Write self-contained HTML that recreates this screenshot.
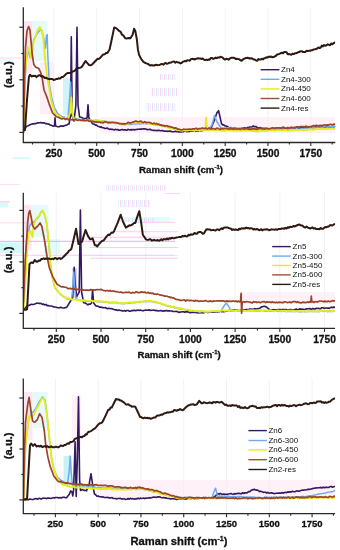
<!DOCTYPE html>
<html><head><meta charset="utf-8"><style>
html,body{margin:0;padding:0;background:#fff;}
svg{display:block;font-family:"Liberation Sans", sans-serif;will-change:transform;}
text{fill:#111;} text[font-weight=bold]{stroke:#111;stroke-width:0.3px;}
</style></head><body>
<svg width="340" height="550" viewBox="0 0 340 550">
<defs><pattern id="hatch" width="4" height="4" patternUnits="userSpaceOnUse"><rect x="0" y="0" width="1" height="4" fill="#ff8fe0"/><rect x="2" y="0" width="1" height="4" fill="#9ff0f4"/></pattern></defs>
<rect width="340" height="550" fill="#fff"/>
<line x1="53.90" y1="7.2" x2="53.90" y2="142.5" stroke="#f0f0f2" stroke-width="0.9"/>
<line x1="96.72" y1="7.2" x2="96.72" y2="142.5" stroke="#f0f0f2" stroke-width="0.9"/>
<line x1="139.53" y1="7.2" x2="139.53" y2="142.5" stroke="#f0f0f2" stroke-width="0.9"/>
<line x1="182.35" y1="7.2" x2="182.35" y2="142.5" stroke="#f0f0f2" stroke-width="0.9"/>
<line x1="225.17" y1="7.2" x2="225.17" y2="142.5" stroke="#f0f0f2" stroke-width="0.9"/>
<line x1="267.99" y1="7.2" x2="267.99" y2="142.5" stroke="#f0f0f2" stroke-width="0.9"/>
<line x1="310.80" y1="7.2" x2="310.80" y2="142.5" stroke="#f0f0f2" stroke-width="0.9"/>
<rect x="23.5" y="21" width="9" height="52" fill="#fde3f1" opacity="0.9"/>
<rect x="32.5" y="21" width="15" height="40" fill="#e0f9fa" opacity="0.8"/>
<rect x="63" y="78" width="8" height="37" fill="#cdf3f8" opacity="0.9"/>
<rect x="40" y="62" width="14" height="52" fill="#fde3f1" opacity="0.6"/>
<rect x="100" y="117" width="235" height="16" fill="#fdeaf4" opacity="0.6"/>
<line x1="0" y1="58" x2="22" y2="58" stroke="#ff7fd6" stroke-width="1" opacity="0.35"/>
<line x1="13" y1="158" x2="30" y2="158" stroke="#aef3f6" stroke-width="1.2" opacity="0.8"/>
<rect x="160" y="74" width="16" height="6" fill="url(#hatch)" opacity="0.4"/>
<rect x="151" y="88" width="27" height="8" fill="url(#hatch)" opacity="0.4"/>
<rect x="145" y="103" width="30" height="8" fill="url(#hatch)" opacity="0.4"/>
<rect x="0" y="59" width="14" height="5" fill="#e0f9fa" opacity="0.7"/>
<clipPath id="p0"><rect x="23.3" y="5.2" width="312.0" height="137.3"/></clipPath>
<g clip-path="url(#p0)" fill="none" stroke-linejoin="round" stroke-linecap="round">
<path d="M23.50 129.00 L24.40 128.50 L25.70 127.59 L27.00 126.00 L28.47 125.69 L29.93 124.79 L31.40 124.30 L32.57 123.82 L33.75 123.84 L34.92 123.49 L36.10 123.63 L37.27 122.92 L38.45 122.85 L39.62 122.72 L40.80 122.40 L41.98 123.05 L43.16 122.88 L44.34 122.90 L45.52 123.62 L46.70 123.60 L47.88 124.12 L49.05 124.15 L50.23 125.21 L51.40 125.20 L52.95 126.08 L54.50 126.00 L55.00 117.70 L55.60 126.00 L57.30 126.60 L58.47 126.74 L59.65 126.65 L60.83 125.89 L62.00 126.13 L63.17 126.12 L64.35 125.73 L65.53 125.35 L66.70 125.20 L67.85 124.20 L69.00 124.00 L70.50 116.00 L71.30 36.70 L72.20 116.00 L74.00 121.00 L75.90 105.00 L77.00 27.30 L78.00 105.00 L79.60 117.00 L80.95 117.31 L82.30 117.86 L83.65 118.54 L85.00 118.50 L87.10 118.00 L88.00 104.70 L88.90 118.00 L90.45 120.50 L92.00 123.00 L93.14 124.05 L94.29 124.15 L95.43 125.12 L96.57 125.10 L97.71 126.23 L98.86 126.56 L100.00 127.10 L101.18 126.85 L102.36 127.80 L103.54 127.72 L104.72 128.38 L105.90 128.47 L107.08 128.04 L108.26 128.77 L109.44 129.39 L110.62 129.00 L111.80 129.50 L112.97 129.38 L114.14 129.97 L115.31 129.34 L116.48 129.77 L117.65 129.49 L118.82 130.27 L119.99 130.15 L121.16 129.85 L122.33 129.53 L123.50 130.00 L124.61 129.76 L125.72 129.89 L126.84 130.26 L127.95 129.37 L129.06 129.76 L130.17 129.85 L131.28 129.64 L132.39 129.84 L133.51 129.51 L134.62 129.88 L135.73 129.46 L136.84 129.38 L137.95 129.18 L139.06 129.27 L140.18 129.00 L141.29 129.13 L142.40 129.00 L143.51 128.88 L144.61 128.88 L145.72 128.97 L146.82 129.49 L147.93 129.63 L149.04 129.54 L150.14 129.25 L151.25 130.01 L152.35 130.22 L153.46 130.36 L154.56 130.38 L155.67 130.53 L156.78 130.65 L157.88 130.36 L158.99 130.30 L160.09 130.71 L161.20 130.60 L162.31 130.45 L163.41 131.05 L164.52 131.16 L165.62 131.28 L166.73 131.04 L167.84 131.47 L168.94 131.17 L170.05 131.12 L171.15 131.40 L172.26 131.80 L173.36 131.79 L174.47 131.74 L175.58 131.10 L176.68 131.70 L177.79 131.65 L178.89 131.86 L180.00 131.80 L181.13 132.08 L182.26 131.42 L183.39 131.84 L184.53 131.16 L185.66 131.20 L186.79 131.72 L187.92 131.19 L189.05 131.61 L190.18 130.83 L191.32 130.81 L192.45 131.30 L193.58 130.59 L194.71 131.05 L195.84 131.33 L196.97 130.89 L198.11 130.97 L199.24 130.25 L200.37 130.80 L201.50 130.60 L202.69 130.42 L203.88 130.10 L205.06 129.63 L206.25 129.32 L207.44 129.64 L208.62 128.41 L209.81 128.11 L211.00 128.30 L212.17 125.53 L213.33 122.77 L214.50 120.00 L215.65 116.50 L216.80 113.00 L218.50 110.60 L219.90 116.50 L221.50 123.60 L222.67 124.86 L223.83 124.88 L225.00 126.00 L226.18 126.01 L227.37 126.48 L228.55 127.45 L229.73 127.97 L230.92 127.44 L232.10 128.30 L233.28 128.34 L234.47 128.13 L235.65 128.41 L236.83 128.49 L238.02 129.03 L239.20 129.00 L240.38 128.68 L241.55 128.33 L242.72 128.48 L243.90 127.84 L245.07 127.73 L246.25 128.44 L247.42 127.47 L248.60 127.60 L249.78 127.06 L250.95 127.03 L252.12 126.74 L253.30 126.00 L254.48 126.82 L255.65 126.47 L256.82 127.37 L258.00 127.60 L259.20 128.26 L260.40 127.54 L261.60 128.35 L262.80 128.71 L264.00 128.39 L265.20 128.49 L266.40 129.03 L267.60 129.06 L268.80 128.98 L270.00 129.50 L271.11 129.42 L272.22 129.30 L273.33 129.40 L274.44 129.29 L275.56 129.03 L276.67 129.02 L277.78 129.45 L278.89 128.81 L280.00 129.06 L281.11 128.46 L282.22 129.13 L283.33 128.67 L284.44 128.32 L285.56 128.50 L286.67 128.41 L287.78 129.06 L288.89 128.41 L290.00 128.29 L291.11 128.30 L292.22 128.84 L293.33 128.47 L294.44 128.40 L295.56 128.44 L296.67 128.05 L297.78 128.03 L298.89 128.21 L300.00 128.00 L301.13 127.46 L302.26 127.60 L303.39 127.70 L304.52 127.56 L305.65 127.91 L306.77 127.61 L307.90 128.06 L309.03 127.71 L310.16 127.51 L311.29 127.45 L312.42 127.71 L313.55 127.38 L314.68 127.58 L315.81 126.91 L316.94 127.27 L318.06 127.04 L319.19 126.89 L320.32 127.21 L321.45 127.13 L322.58 127.16 L323.71 127.31 L324.84 127.39 L325.97 126.96 L327.10 126.73 L328.23 126.84 L329.35 127.13 L330.48 127.16 L331.61 127.05 L332.74 126.38 L333.87 127.14 L335.00 126.60" stroke="#33195f" stroke-width="1.6"/>
<path d="M23.50 131.00 L24.50 100.00 L26.00 62.00 L28.00 51.00 L29.25 54.50 L30.50 58.00 L32.00 50.00 L33.50 40.00 L34.80 37.73 L36.10 35.47 L37.40 33.20 L38.70 31.60 L40.00 30.00 L42.00 31.00 L44.00 40.00 L45.50 48.00 L46.40 36.00 L47.20 34.60 L47.80 55.00 L49.30 84.00 L50.40 90.50 L51.50 97.00 L53.00 102.50 L54.50 108.00 L55.67 110.00 L56.83 112.00 L58.00 114.00 L59.25 114.46 L60.50 115.78 L61.75 116.46 L63.00 117.00 L64.25 117.05 L65.50 117.50 L66.75 117.71 L68.00 118.00 L69.80 95.00 L70.60 82.00 L71.40 100.00 L73.00 118.00 L74.17 118.37 L75.33 118.73 L76.50 118.43 L77.67 118.62 L78.83 119.52 L80.00 119.50 L81.10 119.52 L82.20 119.86 L83.30 119.33 L84.40 119.76 L85.50 120.05 L86.60 119.73 L87.70 120.38 L88.80 120.42 L89.90 119.80 L91.00 119.87 L92.10 120.36 L93.20 120.75 L94.30 120.38 L95.40 120.32 L96.50 120.56 L97.60 120.32 L98.70 120.55 L99.80 120.80 L100.90 120.92 L102.00 121.00 L103.13 120.97 L104.26 121.15 L105.39 121.33 L106.53 121.70 L107.66 121.75 L108.79 121.72 L109.92 122.56 L111.05 122.52 L112.18 122.77 L113.32 122.59 L114.45 123.42 L115.58 123.50 L116.71 123.09 L117.84 123.45 L118.97 123.94 L120.11 124.12 L121.24 124.48 L122.37 124.25 L123.50 124.50 L124.62 124.72 L125.74 124.54 L126.86 124.20 L127.98 124.38 L129.10 124.57 L130.21 124.49 L131.33 124.17 L132.45 124.19 L133.57 123.70 L134.69 123.82 L135.81 124.21 L136.93 123.86 L138.05 123.62 L139.17 123.87 L140.29 123.95 L141.40 123.88 L142.52 123.59 L143.64 123.59 L144.76 123.60 L145.88 123.77 L147.00 123.50 L148.18 123.68 L149.37 123.75 L150.55 123.99 L151.73 123.79 L152.92 123.97 L154.10 124.66 L155.28 125.05 L156.47 124.91 L157.65 124.91 L158.83 124.90 L160.02 125.34 L161.20 125.50 L162.31 126.15 L163.41 126.25 L164.52 126.33 L165.62 126.85 L166.73 126.61 L167.84 127.10 L168.94 127.71 L170.05 127.68 L171.15 127.85 L172.26 127.96 L173.36 128.45 L174.47 129.04 L175.58 128.55 L176.68 129.43 L177.79 129.73 L178.89 130.04 L180.00 130.00 L181.12 130.19 L182.24 130.25 L183.36 130.01 L184.48 130.05 L185.60 129.94 L186.72 129.64 L187.84 130.30 L188.96 130.06 L190.08 129.76 L191.20 130.00 L192.32 129.99 L193.44 129.89 L194.56 129.88 L195.68 130.03 L196.80 130.10 L197.92 130.09 L199.04 129.97 L200.16 129.62 L201.28 129.78 L202.40 129.74 L203.52 130.07 L204.64 130.29 L205.76 130.24 L206.88 130.24 L208.00 130.00 L209.33 128.33 L210.67 126.67 L212.00 125.00 L213.25 120.20 L214.50 115.40 L215.75 118.70 L217.00 122.00 L218.33 124.00 L219.67 126.00 L221.00 128.00 L222.12 128.28 L223.24 127.86 L224.36 128.36 L225.48 128.26 L226.61 127.82 L227.73 127.80 L228.85 127.82 L229.97 128.45 L231.09 128.07 L232.21 127.99 L233.33 128.43 L234.45 128.24 L235.58 128.05 L236.70 128.15 L237.82 128.48 L238.94 128.22 L240.06 128.33 L241.18 128.71 L242.30 128.54 L243.42 128.46 L244.55 128.62 L245.67 128.29 L246.79 128.61 L247.91 128.66 L249.03 128.51 L250.15 128.47 L251.27 129.14 L252.39 128.86 L253.52 128.65 L254.64 128.99 L255.76 129.19 L256.88 128.59 L258.00 129.00 L259.11 128.61 L260.21 128.72 L261.32 129.18 L262.42 128.73 L263.53 129.16 L264.63 129.14 L265.74 129.04 L266.84 128.78 L267.95 129.38 L269.05 129.24 L270.16 129.01 L271.26 128.78 L272.37 129.12 L273.47 128.92 L274.58 129.06 L275.68 128.86 L276.79 129.10 L277.89 128.65 L279.00 128.84 L280.11 129.37 L281.21 129.30 L282.32 128.85 L283.42 129.29 L284.53 128.85 L285.63 129.35 L286.74 129.20 L287.84 128.93 L288.95 128.80 L290.05 128.61 L291.16 129.30 L292.26 128.63 L293.37 129.26 L294.47 129.37 L295.58 129.06 L296.68 128.74 L297.79 129.29 L298.89 129.38 L300.00 129.00 L301.13 129.07 L302.26 128.81 L303.39 128.61 L304.52 128.49 L305.65 128.28 L306.77 128.56 L307.90 128.27 L309.03 127.98 L310.16 127.81 L311.29 128.17 L312.42 127.77 L313.55 127.84 L314.68 127.60 L315.81 127.94 L316.94 127.87 L318.06 127.07 L319.19 127.12 L320.32 127.12 L321.45 127.55 L322.58 127.29 L323.71 126.84 L324.84 126.64 L325.97 126.91 L327.10 126.95 L328.23 126.93 L329.35 126.36 L330.48 126.69 L331.61 126.44 L332.74 126.18 L333.87 126.49 L335.00 126.00" stroke="#6faaf0" stroke-width="1.5"/>
<path d="M23.50 132.00 L24.20 100.00 L25.00 75.00 L26.50 57.00 L28.30 47.00 L29.50 50.00 L31.00 58.00 L32.00 55.00 L33.50 42.00 L35.60 36.00 L36.80 32.50 L38.00 29.00 L39.70 27.00 L40.85 29.00 L42.00 31.00 L43.50 40.00 L44.40 52.00 L45.50 63.00 L46.70 73.00 L47.85 80.00 L49.00 87.00 L50.20 94.10 L51.40 101.20 L52.60 105.13 L53.80 109.07 L55.00 113.00 L56.16 114.40 L57.32 115.33 L58.48 115.38 L59.64 116.34 L60.80 117.70 L62.00 118.17 L63.20 118.20 L64.40 118.27 L65.60 118.04 L66.80 118.47 L68.00 118.50 L69.25 115.25 L70.50 112.00 L71.30 97.40 L72.10 112.00 L74.00 119.00 L75.20 119.41 L76.40 119.68 L77.60 119.56 L78.80 120.13 L80.00 120.50 L81.10 120.43 L82.20 120.79 L83.30 121.10 L84.40 121.09 L85.50 120.72 L86.60 120.65 L87.70 120.51 L88.80 120.32 L89.90 120.34 L91.00 120.81 L92.10 120.70 L93.20 120.80 L94.30 121.35 L95.40 121.02 L96.50 121.09 L97.60 120.80 L98.70 120.62 L99.80 120.96 L100.90 120.80 L102.00 121.20 L103.13 121.36 L104.26 121.99 L105.39 121.82 L106.53 121.47 L107.66 122.33 L108.79 122.38 L109.92 122.47 L111.05 122.79 L112.18 122.79 L113.32 122.96 L114.45 122.67 L115.58 123.45 L116.71 123.58 L117.84 122.92 L118.97 123.66 L120.11 123.77 L121.24 123.67 L122.37 123.88 L123.50 124.00 L124.68 123.81 L125.86 124.06 L127.05 123.46 L128.23 123.60 L129.41 122.94 L130.59 123.29 L131.77 123.13 L132.95 122.51 L134.14 122.43 L135.32 122.60 L136.50 122.00 L137.67 122.33 L138.83 122.21 L140.00 122.06 L141.17 122.27 L142.33 122.76 L143.50 122.33 L144.67 123.19 L145.83 122.66 L147.00 123.00 L148.18 123.62 L149.37 123.23 L150.55 124.08 L151.73 124.04 L152.92 124.05 L154.10 124.27 L155.28 124.61 L156.47 124.75 L157.65 124.69 L158.83 124.79 L160.02 125.30 L161.20 125.50 L162.38 126.25 L163.55 126.25 L164.72 126.01 L165.90 127.07 L167.07 127.29 L168.25 127.78 L169.42 127.38 L170.60 128.00 L171.78 128.56 L172.95 128.18 L174.12 129.09 L175.30 129.02 L176.47 129.29 L177.65 130.25 L178.82 129.79 L180.00 130.50 L181.10 130.50 L182.21 130.81 L183.31 130.18 L184.42 130.12 L185.52 130.77 L186.63 130.29 L187.73 130.56 L188.83 129.86 L189.94 130.17 L191.04 129.95 L192.15 130.43 L193.25 129.82 L194.36 130.67 L195.46 129.72 L196.57 130.40 L197.67 129.67 L198.77 129.89 L199.88 130.42 L200.98 129.74 L202.09 129.75 L203.19 130.23 L204.30 129.91 L205.40 130.00 L206.20 117.70 L207.00 130.00 L208.11 129.57 L209.23 130.54 L210.34 129.72 L211.45 129.63 L212.57 129.96 L213.68 130.25 L214.80 130.40 L215.91 129.79 L217.02 130.04 L218.14 129.76 L219.25 130.20 L220.36 130.54 L221.48 130.54 L222.59 130.72 L223.70 130.60 L224.82 130.73 L225.93 130.59 L227.05 130.38 L228.16 130.16 L229.27 130.62 L230.39 130.29 L231.50 130.10 L232.61 130.47 L233.73 130.92 L234.84 130.20 L235.95 130.68 L237.07 130.51 L238.18 130.65 L239.30 130.30 L240.41 131.14 L241.52 130.46 L242.64 130.83 L243.75 130.67 L244.86 130.29 L245.98 130.85 L247.09 130.46 L248.20 130.40 L249.32 130.40 L250.43 130.55 L251.55 130.50 L252.66 131.07 L253.77 130.96 L254.89 131.46 L256.00 131.00 L257.10 131.41 L258.20 131.44 L259.30 130.66 L260.40 130.84 L261.50 130.63 L262.60 130.94 L263.70 130.95 L264.80 131.10 L265.90 130.98 L267.00 130.51 L268.10 130.65 L269.20 130.73 L270.30 130.18 L271.40 130.19 L272.50 130.53 L273.60 130.21 L274.70 130.80 L275.80 130.29 L276.90 130.12 L278.00 130.18 L279.10 130.21 L280.20 130.17 L281.30 130.45 L282.40 130.36 L283.50 130.18 L284.60 130.49 L285.70 130.04 L286.80 130.71 L287.90 130.74 L289.00 130.48 L290.10 130.16 L291.20 130.21 L292.30 130.26 L293.40 129.70 L294.50 130.04 L295.60 130.13 L296.70 129.76 L297.80 129.64 L298.90 130.33 L300.00 130.00 L301.13 129.82 L302.26 129.92 L303.39 130.28 L304.52 129.92 L305.65 129.55 L306.77 130.19 L307.90 129.53 L309.03 129.13 L310.16 129.75 L311.29 129.12 L312.42 129.27 L313.55 129.76 L314.68 129.54 L315.81 128.84 L316.94 129.23 L318.06 129.14 L319.19 129.16 L320.32 128.84 L321.45 129.17 L322.58 128.61 L323.71 128.77 L324.84 128.81 L325.97 129.32 L327.10 128.42 L328.23 129.05 L329.35 128.43 L330.48 128.77 L331.61 128.54 L332.74 128.56 L333.87 128.80 L335.00 128.50" stroke="#e4ec1e" stroke-width="1.9"/>
<path d="M23.50 133.00 L24.50 80.00 L25.50 47.40 L27.00 31.00 L28.60 26.60 L30.00 30.00 L30.90 40.00 L32.30 55.00 L33.80 64.40 L34.90 65.90 L36.00 67.40 L37.45 67.79 L38.90 68.80 L40.40 71.80 L41.90 76.20 L42.60 80.60 L44.00 90.00 L45.35 93.25 L46.70 96.50 L47.85 100.05 L49.00 103.60 L50.20 106.73 L51.40 109.87 L52.60 113.00 L53.77 114.17 L54.93 115.33 L56.10 116.50 L57.28 117.03 L58.46 117.30 L59.64 118.06 L60.82 118.57 L62.00 118.90 L63.14 118.46 L64.29 118.49 L65.43 119.56 L66.57 118.95 L67.71 119.01 L68.86 120.01 L70.00 119.50 L71.11 119.52 L72.22 120.01 L73.33 119.64 L74.44 119.89 L75.56 119.36 L76.67 120.00 L77.78 120.33 L78.89 119.97 L80.00 120.00 L81.15 120.40 L82.29 120.42 L83.44 119.80 L84.58 120.75 L85.73 120.65 L86.87 120.42 L88.02 120.20 L89.16 121.31 L90.31 120.95 L91.45 121.35 L92.60 121.20 L93.77 121.80 L94.95 121.76 L96.12 122.16 L97.30 121.67 L98.47 122.31 L99.65 122.03 L100.83 122.77 L102.00 122.40 L103.22 122.85 L104.45 121.92 L105.67 121.96 L106.90 122.06 L108.12 122.96 L109.35 122.32 L110.58 122.55 L111.80 122.40 L112.97 122.28 L114.14 122.65 L115.31 122.62 L116.48 122.70 L117.65 123.10 L118.82 123.22 L119.99 123.73 L121.16 123.58 L122.33 123.99 L123.50 123.60 L124.68 123.81 L125.86 123.75 L127.05 123.15 L128.23 122.32 L129.41 122.94 L130.59 122.85 L131.77 122.56 L132.95 121.94 L134.14 121.89 L135.32 121.07 L136.50 121.20 L137.67 121.73 L138.83 121.55 L140.00 121.34 L141.17 121.21 L142.33 122.29 L143.50 122.59 L144.67 121.64 L145.83 122.63 L147.00 122.40 L148.18 122.49 L149.37 122.38 L150.55 122.75 L151.73 123.52 L152.92 123.85 L154.10 123.05 L155.28 123.94 L156.47 123.45 L157.65 124.46 L158.83 124.20 L160.02 125.06 L161.20 124.80 L162.38 125.66 L163.55 125.38 L164.72 126.26 L165.90 125.72 L167.07 125.73 L168.25 126.64 L169.42 126.25 L170.60 127.10 L171.78 127.04 L172.95 127.59 L174.12 128.13 L175.30 127.89 L176.47 128.05 L177.65 129.34 L178.82 128.98 L180.00 129.50 L181.11 129.99 L182.22 129.86 L183.33 129.19 L184.44 129.23 L185.56 129.25 L186.67 129.34 L187.78 129.23 L188.89 129.13 L190.00 129.14 L191.11 129.47 L192.22 128.90 L193.33 128.75 L194.44 129.04 L195.56 128.41 L196.67 128.43 L197.78 129.18 L198.89 128.58 L200.00 128.50 L201.11 128.58 L202.22 127.95 L203.33 128.45 L204.44 128.67 L205.56 128.02 L206.67 128.75 L207.78 128.79 L208.89 128.12 L210.00 128.82 L211.11 128.64 L212.22 128.92 L213.33 128.55 L214.44 128.99 L215.56 129.04 L216.67 128.20 L217.78 128.27 L218.89 129.03 L220.00 129.39 L221.11 128.55 L222.22 128.82 L223.33 129.00 L224.44 128.69 L225.56 128.76 L226.67 128.72 L227.78 128.81 L228.89 129.10 L230.00 129.00 L231.13 128.76 L232.26 128.85 L233.39 129.33 L234.52 128.43 L235.65 129.08 L236.78 129.28 L237.91 128.77 L239.04 128.67 L240.17 129.36 L241.30 128.69 L242.43 128.62 L243.57 128.92 L244.70 129.24 L245.83 128.52 L246.96 128.79 L248.09 128.80 L249.22 129.40 L250.35 128.93 L251.48 129.43 L252.61 128.60 L253.74 128.80 L254.87 129.18 L256.00 129.00 L257.10 129.41 L258.20 128.84 L259.30 128.52 L260.40 128.35 L261.50 128.79 L262.60 128.33 L263.70 129.02 L264.80 129.01 L265.90 128.17 L267.00 128.23 L268.10 128.82 L269.20 128.57 L270.30 128.72 L271.40 128.11 L272.50 127.81 L273.60 127.95 L274.70 128.50 L275.80 127.83 L276.90 127.87 L278.00 127.90 L279.10 127.85 L280.20 127.79 L281.30 128.35 L282.40 127.39 L283.50 127.16 L284.60 128.23 L285.70 128.11 L286.80 128.18 L287.90 127.47 L289.00 128.04 L290.10 127.96 L291.20 127.07 L292.30 127.64 L293.40 127.70 L294.50 127.45 L295.60 127.22 L296.70 126.90 L297.80 126.91 L298.90 126.72 L300.00 127.00 L301.13 126.39 L302.26 126.93 L303.39 126.48 L304.52 127.02 L305.65 126.02 L306.77 126.96 L307.90 126.62 L309.03 126.81 L310.16 126.69 L311.29 126.61 L312.42 126.13 L313.55 125.37 L314.68 126.16 L315.81 125.39 L316.94 125.45 L318.06 125.80 L319.19 125.55 L320.32 125.33 L321.45 125.87 L322.58 125.39 L323.71 124.98 L324.84 124.79 L325.97 125.43 L327.10 124.88 L328.23 125.16 L329.35 124.56 L330.48 124.29 L331.61 124.60 L332.74 124.85 L333.87 123.99 L335.00 124.30" stroke="#9c4429" stroke-width="1.7"/>
<path d="M23.50 130.50 L25.00 130.00 L27.00 100.00 L28.90 77.00 L30.00 74.70 L31.80 76.50 L33.00 75.78 L34.20 75.90 L35.35 75.87 L36.50 77.10 L37.70 76.03 L38.90 75.30 L40.10 75.35 L41.30 76.50 L42.47 76.11 L43.65 76.94 L44.83 78.07 L46.00 77.70 L47.33 78.58 L48.67 78.92 L50.00 78.90 L51.40 79.10 L52.50 79.06 L53.60 79.90 L54.83 79.69 L56.07 79.01 L57.30 79.10 L58.75 78.23 L60.20 78.40 L61.70 77.02 L63.20 76.90 L64.65 75.45 L66.10 74.00 L67.55 72.99 L69.00 72.90 L70.20 73.08 L71.40 72.43 L72.60 71.40 L73.78 71.21 L74.96 70.52 L76.14 68.87 L77.32 68.38 L78.50 68.00 L79.67 67.74 L80.83 67.44 L82.00 66.60 L83.17 64.73 L84.33 62.87 L85.50 61.00 L86.67 62.33 L87.83 63.67 L89.00 65.00 L90.20 65.23 L91.40 64.94 L92.60 64.00 L93.77 62.77 L94.93 61.53 L96.10 60.30 L97.40 58.87 L98.70 58.94 L100.00 58.00 L101.50 56.30 L103.00 54.60 L104.10 54.47 L105.20 53.81 L106.30 52.88 L107.40 53.00 L109.60 49.40 L110.70 44.20 L111.80 39.00 L113.00 33.20 L114.20 27.40 L116.20 28.10 L117.30 29.16 L118.40 30.30 L120.60 31.80 L122.00 34.70 L123.15 35.14 L124.30 36.90 L125.40 38.35 L126.50 38.40 L128.70 38.00 L129.80 38.38 L130.90 37.60 L132.60 34.70 L134.10 28.80 L135.30 31.00 L136.80 39.00 L137.90 49.40 L139.00 54.60 L141.20 59.00 L142.30 60.45 L143.40 61.90 L144.85 62.73 L146.30 63.40 L147.80 63.83 L149.30 64.90 L150.49 65.57 L151.68 65.04 L152.86 65.55 L154.05 65.51 L155.24 64.98 L156.43 64.84 L157.61 65.15 L158.80 65.00 L159.98 64.69 L161.15 64.06 L162.32 64.09 L163.50 64.70 L164.68 63.27 L165.85 63.07 L167.02 63.80 L168.20 63.40 L169.38 62.67 L170.56 62.70 L171.74 62.21 L172.92 61.63 L174.10 61.50 L175.36 62.68 L176.62 61.77 L177.88 62.50 L179.14 62.54 L180.40 63.40 L181.55 63.01 L182.70 61.84 L183.85 61.37 L185.00 61.00 L186.18 61.16 L187.36 60.23 L188.54 60.37 L189.72 60.69 L190.90 59.16 L192.08 58.86 L193.26 58.89 L194.44 59.50 L195.62 59.02 L196.80 58.60 L197.98 58.30 L199.15 58.58 L200.32 58.46 L201.50 59.03 L202.68 58.49 L203.85 59.67 L205.02 60.11 L206.20 59.60 L207.38 60.09 L208.57 59.51 L209.75 59.64 L210.93 57.90 L212.12 58.10 L213.30 58.95 L214.48 58.41 L215.67 57.59 L216.85 58.21 L218.03 57.46 L219.22 57.54 L220.40 56.80 L221.55 57.17 L222.70 57.71 L223.85 58.81 L225.00 59.60 L226.19 58.82 L227.38 59.01 L228.56 59.74 L229.75 58.53 L230.94 57.82 L232.12 57.67 L233.31 57.67 L234.50 58.00 L235.68 58.91 L236.86 58.70 L238.04 59.04 L239.22 59.20 L240.40 60.30 L241.57 60.74 L242.74 59.52 L243.91 58.85 L245.09 58.28 L246.26 57.95 L247.43 57.80 L248.60 58.00 L249.83 58.67 L251.07 58.21 L252.30 58.42 L253.53 59.52 L254.77 59.52 L256.00 60.30 L257.18 60.81 L258.35 59.12 L259.52 59.48 L260.70 59.59 L261.88 58.72 L263.05 59.36 L264.22 58.25 L265.40 58.00 L266.57 57.37 L267.75 57.43 L268.93 56.62 L270.10 57.02 L271.27 56.54 L272.45 57.35 L273.62 57.04 L274.80 56.30 L275.98 55.77 L277.15 54.50 L278.32 54.33 L279.50 53.79 L280.68 53.21 L281.85 52.72 L283.02 53.22 L284.20 52.10 L285.38 51.99 L286.56 52.30 L287.74 54.16 L288.92 54.04 L290.10 54.40 L291.29 54.86 L292.47 53.59 L293.66 54.06 L294.84 53.33 L296.03 53.22 L297.21 52.82 L298.40 52.10 L299.57 51.94 L300.75 51.15 L301.93 51.19 L303.10 52.10 L304.27 51.99 L305.45 51.88 L306.62 50.79 L307.80 50.90 L308.98 50.85 L310.15 50.78 L311.32 50.23 L312.50 50.20 L313.68 49.44 L314.85 49.35 L316.02 49.10 L317.20 48.50 L318.37 47.55 L319.53 48.01 L320.70 47.48 L321.87 45.49 L323.03 46.34 L324.20 45.00 L325.40 45.74 L326.60 45.27 L327.80 44.27 L329.00 45.00 L330.10 45.16 L331.20 43.44 L332.30 44.31 L333.40 43.35 L334.50 42.60" stroke="#2e1a12" stroke-width="2.0"/>
</g>
<path d="M23.30 7.20 V142.50 H335.30" fill="none" stroke="#2a2a2a" stroke-width="1.3"/>
<line x1="19.30" y1="27.20" x2="23.30" y2="27.20" stroke="#2a2a2a" stroke-width="1.2"/>
<line x1="21.30" y1="53.50" x2="23.30" y2="53.50" stroke="#2a2a2a" stroke-width="1.2"/>
<line x1="19.30" y1="79.80" x2="23.30" y2="79.80" stroke="#2a2a2a" stroke-width="1.2"/>
<line x1="21.30" y1="106.10" x2="23.30" y2="106.10" stroke="#2a2a2a" stroke-width="1.2"/>
<line x1="19.30" y1="132.40" x2="23.30" y2="132.40" stroke="#2a2a2a" stroke-width="1.2"/>
<line x1="32.49" y1="142.50" x2="32.49" y2="144.50" stroke="#2a2a2a" stroke-width="1.1"/>
<line x1="53.90" y1="142.50" x2="53.90" y2="146.00" stroke="#2a2a2a" stroke-width="1.1"/>
<line x1="75.31" y1="142.50" x2="75.31" y2="144.50" stroke="#2a2a2a" stroke-width="1.1"/>
<line x1="96.72" y1="142.50" x2="96.72" y2="146.00" stroke="#2a2a2a" stroke-width="1.1"/>
<line x1="118.12" y1="142.50" x2="118.12" y2="144.50" stroke="#2a2a2a" stroke-width="1.1"/>
<line x1="139.53" y1="142.50" x2="139.53" y2="146.00" stroke="#2a2a2a" stroke-width="1.1"/>
<line x1="160.94" y1="142.50" x2="160.94" y2="144.50" stroke="#2a2a2a" stroke-width="1.1"/>
<line x1="182.35" y1="142.50" x2="182.35" y2="146.00" stroke="#2a2a2a" stroke-width="1.1"/>
<line x1="203.76" y1="142.50" x2="203.76" y2="144.50" stroke="#2a2a2a" stroke-width="1.1"/>
<line x1="225.17" y1="142.50" x2="225.17" y2="146.00" stroke="#2a2a2a" stroke-width="1.1"/>
<line x1="246.58" y1="142.50" x2="246.58" y2="144.50" stroke="#2a2a2a" stroke-width="1.1"/>
<line x1="267.99" y1="142.50" x2="267.99" y2="146.00" stroke="#2a2a2a" stroke-width="1.1"/>
<line x1="289.39" y1="142.50" x2="289.39" y2="144.50" stroke="#2a2a2a" stroke-width="1.1"/>
<line x1="310.80" y1="142.50" x2="310.80" y2="146.00" stroke="#2a2a2a" stroke-width="1.1"/>
<line x1="332.21" y1="142.50" x2="332.21" y2="144.50" stroke="#2a2a2a" stroke-width="1.1"/>
<text x="53.90" y="156.8" font-size="10.2" font-weight="bold" text-anchor="middle">250</text>
<text x="96.72" y="156.8" font-size="10.2" font-weight="bold" text-anchor="middle">500</text>
<text x="139.53" y="156.8" font-size="10.2" font-weight="bold" text-anchor="middle">750</text>
<text x="182.35" y="156.8" font-size="10.2" font-weight="bold" text-anchor="middle">1000</text>
<text x="225.17" y="156.8" font-size="10.2" font-weight="bold" text-anchor="middle">1250</text>
<text x="267.99" y="156.8" font-size="10.2" font-weight="bold" text-anchor="middle">1500</text>
<text x="310.80" y="156.8" font-size="10.2" font-weight="bold" text-anchor="middle">1750</text>
<text x="181.0" y="172.6" font-size="9.7" font-weight="bold" text-anchor="middle">Raman shift (cm<tspan font-size="6.01" dy="-3.69">-1</tspan><tspan dy="3.69">)</tspan></text>
<text transform="translate(7.9 74.7) rotate(-90)" x="0" y="4.03" font-size="11.2" font-weight="bold" text-anchor="middle">(a.u.)</text>
<line x1="260.6" y1="69.7" x2="279.4" y2="69.7" stroke="#33195f" stroke-width="1.4"/>
<text x="281.0" y="72.20" font-size="8" fill="#222">Zn4</text>
<line x1="260.6" y1="79.3" x2="279.4" y2="79.3" stroke="#6faaf0" stroke-width="1.4"/>
<text x="281.0" y="81.80" font-size="8" fill="#222">Zn4-300</text>
<line x1="260.6" y1="88.9" x2="279.4" y2="88.9" stroke="#e4ec1e" stroke-width="1.4"/>
<text x="281.0" y="91.40" font-size="8" fill="#222">Zn4-450</text>
<line x1="260.6" y1="98.5" x2="279.4" y2="98.5" stroke="#9a5530" stroke-width="1.4"/>
<text x="281.0" y="101.00" font-size="8" fill="#222">Zn4-600</text>
<line x1="260.6" y1="108.1" x2="279.4" y2="108.1" stroke="#2a1a12" stroke-width="1.4"/>
<text x="281.0" y="110.60" font-size="8" fill="#222">Zn4-res</text>
<line x1="56.30" y1="192.8" x2="56.30" y2="328.4" stroke="#f0f0f2" stroke-width="0.9"/>
<line x1="101.00" y1="192.8" x2="101.00" y2="328.4" stroke="#f0f0f2" stroke-width="0.9"/>
<line x1="145.70" y1="192.8" x2="145.70" y2="328.4" stroke="#f0f0f2" stroke-width="0.9"/>
<line x1="190.40" y1="192.8" x2="190.40" y2="328.4" stroke="#f0f0f2" stroke-width="0.9"/>
<line x1="235.10" y1="192.8" x2="235.10" y2="328.4" stroke="#f0f0f2" stroke-width="0.9"/>
<line x1="279.80" y1="192.8" x2="279.80" y2="328.4" stroke="#f0f0f2" stroke-width="0.9"/>
<line x1="324.50" y1="192.8" x2="324.50" y2="328.4" stroke="#f0f0f2" stroke-width="0.9"/>
<rect x="23.5" y="205" width="8" height="45" fill="#fde3f1" opacity="0.9"/>
<rect x="31.5" y="205" width="17" height="32" fill="#e0f9fa" opacity="0.8"/>
<rect x="0" y="242.3" width="22" height="11" fill="#aef3f6" opacity="0.55"/>
<rect x="44" y="239" width="16" height="15" fill="#aef3f6" opacity="0.35"/>
<rect x="0" y="202.5" width="8" height="5" fill="#aef3f6" opacity="0.5"/>
<line x1="0" y1="241.4" x2="175" y2="241.4" stroke="#ff7fd6" stroke-width="1.1" opacity="0.55"/>
<line x1="0" y1="255.3" x2="175" y2="255.3" stroke="#ff7fd6" stroke-width="1.1" opacity="0.45"/>
<line x1="0" y1="201.8" x2="10" y2="201.8" stroke="#ff7fd6" stroke-width="1" opacity="0.5"/>
<line x1="0" y1="184.5" x2="20" y2="184.5" stroke="#ff7fd6" stroke-width="1" opacity="0.25"/>
<line x1="0" y1="222.8" x2="35" y2="222.8" stroke="#ff7fd6" stroke-width="1" opacity="0.3"/>
<line x1="90" y1="237.2" x2="178" y2="237.2" stroke="#ff7fd6" stroke-width="1" opacity="0.45"/>
<line x1="90" y1="247.6" x2="178" y2="247.6" stroke="#ff7fd6" stroke-width="1" opacity="0.45"/>
<line x1="90" y1="258.2" x2="178" y2="258.2" stroke="#ff7fd6" stroke-width="1" opacity="0.4"/>
<line x1="115" y1="231.7" x2="178" y2="231.7" stroke="#ff7fd6" stroke-width="1" opacity="0.4"/>
<line x1="135" y1="222.4" x2="175" y2="222.4" stroke="#ff7fd6" stroke-width="1" opacity="0.4"/>
<rect x="125" y="217" width="45" height="5" fill="#aef3f6" opacity="0.35"/>
<line x1="90" y1="255.5" x2="178" y2="255.5" stroke="#aef3f6" stroke-width="1" opacity="0.5"/>
<rect x="105" y="185" width="60" height="6" fill="url(#hatch)" opacity="0.35"/>
<rect x="118" y="200" width="32" height="7" fill="url(#hatch)" opacity="0.4"/>
<rect x="120" y="218" width="35" height="4" fill="url(#hatch)" opacity="0.3"/>
<line x1="165" y1="193.6" x2="180" y2="193.6" stroke="#ff7fd6" stroke-width="1" opacity="0.35"/>
<rect x="240" y="292" width="95" height="12" fill="#fdeaf4" opacity="0.6"/>
<rect x="72" y="268" width="5" height="30" fill="#c8bff0" opacity="0.6"/>
<clipPath id="p1"><rect x="23.3" y="190.8" width="311.8" height="137.59999999999997"/></clipPath>
<g clip-path="url(#p1)" fill="none" stroke-linejoin="round" stroke-linecap="round">
<path d="M23.50 308.80 L24.10 308.50 L25.60 307.37 L27.10 306.10 L28.28 305.60 L29.45 305.33 L30.62 304.53 L31.80 304.40 L32.98 304.47 L34.16 304.24 L35.34 303.83 L36.52 303.10 L37.70 303.20 L38.88 303.40 L40.06 303.39 L41.24 303.49 L42.42 304.37 L43.60 304.10 L44.80 304.97 L46.00 304.39 L47.20 305.59 L48.40 305.60 L49.68 305.98 L50.96 306.04 L52.24 306.22 L53.52 306.89 L54.80 307.00 L56.05 307.26 L57.30 307.60 L58.47 307.76 L59.65 307.71 L60.83 307.16 L62.00 307.77 L63.17 307.96 L64.35 307.92 L65.53 307.54 L66.70 307.40 L67.87 305.43 L69.03 303.47 L70.20 301.50 L71.40 299.75 L72.60 298.00 L73.50 282.00 L74.20 267.40 L75.00 282.00 L76.60 296.80 L77.90 294.40 L79.20 292.00 L80.40 210.00 L81.60 292.00 L83.60 302.70 L85.03 303.01 L86.47 303.74 L87.90 305.00 L89.13 303.97 L90.37 304.11 L91.60 303.00 L92.60 289.80 L93.60 303.00 L94.80 304.50 L96.00 306.00 L97.20 306.08 L98.40 306.43 L99.60 307.24 L100.80 306.93 L102.00 307.40 L103.13 307.64 L104.26 307.71 L105.39 307.53 L106.53 308.24 L107.66 308.69 L108.79 308.19 L109.92 308.45 L111.05 308.83 L112.18 308.64 L113.32 309.29 L114.45 309.80 L115.58 309.83 L116.71 309.90 L117.84 310.41 L118.97 309.89 L120.11 310.50 L121.24 310.50 L122.37 310.91 L123.50 311.00 L124.62 310.57 L125.75 311.20 L126.87 310.48 L128.00 310.51 L129.12 311.12 L130.24 311.22 L131.37 310.67 L132.49 310.61 L133.61 310.40 L134.74 310.39 L135.86 310.70 L136.99 310.22 L138.11 310.12 L139.23 310.42 L140.36 310.09 L141.48 310.54 L142.60 310.67 L143.73 310.59 L144.85 310.26 L145.98 310.09 L147.10 310.20 L148.22 310.17 L149.34 309.78 L150.46 310.53 L151.58 310.18 L152.70 310.21 L153.81 310.01 L154.93 310.41 L156.05 310.59 L157.17 310.43 L158.29 310.95 L159.41 310.79 L160.53 310.40 L161.65 310.72 L162.77 311.14 L163.89 310.79 L165.00 310.91 L166.12 310.41 L167.24 310.88 L168.36 310.89 L169.48 310.86 L170.60 311.00 L171.78 311.06 L172.95 311.36 L174.12 311.45 L175.30 311.54 L176.47 311.35 L177.65 311.77 L178.82 312.43 L180.00 312.10 L181.13 312.04 L182.26 311.69 L183.39 311.68 L184.53 312.24 L185.66 311.78 L186.79 311.85 L187.92 311.89 L189.05 312.26 L190.18 312.83 L191.32 312.35 L192.45 312.35 L193.58 312.35 L194.71 312.44 L195.84 312.42 L196.97 312.72 L198.11 312.92 L199.24 312.75 L200.37 312.50 L201.50 312.60 L202.62 312.68 L203.73 312.86 L204.85 312.03 L205.96 312.04 L207.08 312.35 L208.19 312.34 L209.31 312.23 L210.43 312.10 L211.54 312.27 L212.66 311.84 L213.77 312.10 L214.89 312.18 L216.01 311.58 L217.12 311.93 L218.24 311.71 L219.35 311.81 L220.47 310.89 L221.58 311.69 L222.70 311.47 L223.82 311.59 L224.93 311.53 L226.05 310.76 L227.16 311.08 L228.28 310.47 L229.39 310.85 L230.51 311.10 L231.63 310.30 L232.74 310.39 L233.86 310.04 L234.97 310.08 L236.09 310.02 L237.21 309.84 L238.32 310.67 L239.44 310.48 L240.55 309.98 L241.67 310.19 L242.78 310.07 L243.90 309.80 L245.08 309.72 L246.25 309.52 L247.43 309.66 L248.60 309.46 L249.78 309.07 L250.95 309.06 L252.12 309.23 L253.30 309.13 L254.47 308.61 L255.65 308.91 L256.82 309.07 L258.00 308.60 L259.24 308.49 L260.48 307.79 L261.72 306.73 L262.96 306.60 L264.20 306.20 L265.38 306.51 L266.56 307.20 L267.74 308.11 L268.92 309.04 L270.10 309.80 L271.23 310.04 L272.37 309.89 L273.50 309.53 L274.64 309.93 L275.77 309.72 L276.91 309.70 L278.04 309.44 L279.18 309.60 L280.31 309.49 L281.44 309.85 L282.58 309.59 L283.71 309.54 L284.85 309.55 L285.98 309.54 L287.12 309.73 L288.25 309.74 L289.39 309.81 L290.52 309.39 L291.66 309.77 L292.79 309.92 L293.92 309.93 L295.06 309.64 L296.19 308.97 L297.33 309.73 L298.46 309.71 L299.60 308.87 L300.73 309.16 L301.87 309.14 L303.00 309.30 L304.10 309.47 L305.21 309.28 L306.31 308.89 L307.41 308.72 L308.52 308.64 L309.62 308.50 L310.72 309.13 L311.83 309.21 L312.93 308.43 L314.03 308.89 L315.14 309.03 L316.24 308.21 L317.34 308.52 L318.45 308.32 L319.55 308.79 L320.66 308.62 L321.76 307.70 L322.86 307.82 L323.97 308.40 L325.07 308.06 L326.17 307.95 L327.28 308.17 L328.38 308.06 L329.48 308.18 L330.59 307.49 L331.69 307.14 L332.79 307.72 L333.90 307.02 L335.00 307.40" stroke="#33195f" stroke-width="1.6"/>
<path d="M23.50 305.00 L25.50 270.00 L27.50 240.00 L29.50 226.00 L31.00 224.00 L32.25 222.96 L33.50 222.00 L35.20 220.30 L36.40 219.18 L37.60 218.31 L38.80 216.80 L39.90 214.40 L41.00 212.00 L42.70 211.00 L43.85 213.50 L45.00 216.00 L46.70 224.00 L48.00 236.00 L49.20 248.00 L50.40 264.00 L52.00 276.00 L53.40 281.75 L54.80 287.50 L56.15 289.18 L57.50 290.85 L58.85 292.52 L60.20 294.20 L61.50 295.09 L62.80 296.05 L64.10 297.03 L65.40 297.63 L66.70 298.80 L67.90 298.98 L69.10 299.25 L70.30 299.56 L71.50 299.50 L72.80 288.00 L73.80 272.00 L74.80 288.00 L76.00 299.00 L77.20 299.10 L78.40 299.69 L79.60 299.95 L80.80 300.70 L81.92 301.01 L83.03 300.97 L84.15 300.51 L85.26 301.32 L86.38 301.36 L87.49 301.17 L88.61 301.20 L89.73 300.89 L90.84 300.83 L91.96 301.30 L93.07 300.98 L94.19 301.15 L95.31 301.25 L96.42 301.13 L97.54 301.54 L98.65 301.58 L99.77 301.96 L100.88 301.76 L102.00 301.80 L103.13 302.00 L104.26 301.98 L105.39 302.20 L106.53 302.12 L107.66 302.07 L108.79 302.73 L109.92 302.82 L111.05 302.79 L112.18 302.77 L113.32 302.55 L114.45 302.57 L115.58 302.70 L116.71 302.62 L117.84 303.27 L118.97 303.06 L120.11 303.51 L121.24 303.23 L122.37 303.78 L123.50 303.50 L124.63 303.68 L125.75 302.91 L126.88 302.98 L128.00 303.45 L129.13 303.00 L130.26 303.31 L131.38 302.75 L132.51 302.39 L133.63 302.74 L134.76 302.77 L135.89 302.26 L137.01 302.02 L138.14 302.12 L139.27 302.53 L140.39 302.27 L141.52 301.66 L142.64 301.67 L143.77 301.46 L144.90 301.33 L146.02 301.82 L147.15 301.23 L148.27 301.44 L149.40 301.30 L150.58 301.48 L151.76 301.50 L152.93 302.15 L154.11 301.89 L155.29 302.53 L156.47 302.33 L157.64 302.79 L158.82 302.85 L160.00 303.30 L161.27 303.55 L162.53 304.54 L163.80 304.84 L165.07 304.88 L166.33 305.77 L167.60 305.90 L168.78 305.96 L169.96 306.40 L171.14 307.05 L172.32 307.17 L173.50 307.03 L174.68 308.03 L175.86 307.70 L177.04 308.03 L178.22 308.73 L179.40 308.80 L180.53 308.85 L181.66 309.01 L182.79 309.01 L183.92 309.21 L185.05 309.79 L186.18 309.70 L187.32 310.17 L188.45 310.17 L189.58 310.42 L190.71 311.01 L191.84 310.82 L192.97 311.08 L194.10 311.20 L195.23 311.54 L196.36 311.04 L197.49 311.06 L198.62 311.71 L199.75 311.69 L200.88 311.28 L202.02 311.27 L203.15 311.76 L204.28 311.97 L205.41 311.42 L206.54 312.07 L207.67 312.06 L208.80 311.80 L209.91 311.81 L211.02 311.59 L212.13 311.26 L213.24 311.14 L214.35 311.81 L215.45 311.15 L216.56 311.45 L217.67 311.02 L218.78 311.40 L219.89 311.15 L221.00 311.00 L222.50 308.50 L224.00 306.00 L226.20 303.20 L227.35 304.60 L228.50 306.00 L229.75 308.40 L231.00 310.80 L232.12 310.63 L233.25 310.54 L234.38 310.98 L235.50 310.46 L236.62 310.58 L237.75 310.85 L238.88 311.08 L240.00 310.89 L241.12 310.62 L242.25 311.13 L243.38 310.56 L244.50 310.41 L245.62 310.62 L246.75 310.76 L247.88 310.45 L249.00 310.54 L250.12 310.70 L251.25 310.86 L252.38 310.51 L253.50 310.69 L254.62 311.11 L255.75 311.18 L256.88 310.93 L258.00 310.80 L259.11 310.97 L260.21 310.90 L261.32 310.57 L262.42 310.50 L263.53 310.51 L264.63 311.24 L265.74 311.09 L266.84 311.32 L267.95 310.58 L269.05 311.09 L270.16 310.99 L271.26 311.21 L272.37 310.89 L273.47 311.46 L274.58 310.74 L275.68 311.13 L276.79 311.30 L277.89 311.45 L279.00 311.34 L280.11 311.33 L281.21 311.42 L282.32 311.54 L283.42 311.11 L284.53 311.39 L285.63 311.58 L286.74 311.58 L287.84 311.23 L288.95 311.55 L290.05 311.62 L291.16 311.41 L292.26 311.47 L293.37 311.30 L294.47 311.47 L295.58 311.51 L296.68 311.11 L297.79 311.57 L298.89 311.88 L300.00 311.50 L301.13 311.80 L302.26 311.67 L303.39 311.39 L304.52 311.66 L305.65 311.53 L306.77 311.41 L307.90 311.73 L309.03 311.12 L310.16 311.64 L311.29 311.06 L312.42 311.51 L313.55 311.41 L314.68 311.20 L315.81 311.57 L316.94 311.40 L318.06 311.49 L319.19 311.73 L320.32 311.19 L321.45 310.99 L322.58 311.21 L323.71 311.51 L324.84 311.12 L325.97 311.09 L327.10 311.67 L328.23 311.47 L329.35 311.29 L330.48 311.64 L331.61 311.18 L332.74 311.45 L333.87 311.07 L335.00 311.30" stroke="#6faaf0" stroke-width="1.5"/>
<path d="M23.50 312.00 L25.50 280.00 L27.00 250.00 L28.60 233.00 L30.50 231.00 L32.60 237.00 L33.50 226.00 L34.75 222.50 L36.00 219.00 L37.23 217.67 L38.47 216.33 L39.70 215.00 L41.20 212.60 L42.70 210.20 L43.85 213.05 L45.00 215.90 L46.70 223.00 L48.00 235.30 L49.20 246.00 L50.40 262.00 L52.00 275.00 L53.40 281.15 L54.80 287.30 L56.15 288.95 L57.50 290.60 L58.85 292.25 L60.20 293.90 L61.50 294.79 L62.80 295.90 L64.10 296.83 L65.40 297.22 L66.70 298.50 L67.88 298.17 L69.05 298.69 L70.22 298.75 L71.40 299.44 L72.58 299.48 L73.75 299.55 L74.92 299.67 L76.10 299.93 L77.28 299.57 L78.45 300.02 L79.62 299.90 L80.80 300.40 L81.92 300.86 L83.03 300.07 L84.15 300.89 L85.26 300.21 L86.38 300.88 L87.49 300.58 L88.61 300.71 L89.73 301.21 L90.84 300.44 L91.96 300.54 L93.07 301.45 L94.19 301.10 L95.31 300.74 L96.42 301.70 L97.54 301.72 L98.65 300.94 L99.77 301.31 L100.88 301.08 L102.00 301.50 L103.13 301.40 L104.26 301.80 L105.39 301.43 L106.53 302.05 L107.66 301.50 L108.79 301.71 L109.92 302.44 L111.05 302.12 L112.18 302.22 L113.32 302.49 L114.45 302.46 L115.58 302.46 L116.71 302.19 L117.84 302.98 L118.97 303.31 L120.11 303.41 L121.24 303.18 L122.37 302.97 L123.50 303.20 L124.63 302.97 L125.75 303.20 L126.88 303.09 L128.00 302.43 L129.13 302.46 L130.26 302.49 L131.38 302.54 L132.51 302.74 L133.63 302.34 L134.76 301.77 L135.89 302.47 L137.01 301.98 L138.14 301.98 L139.27 301.58 L140.39 301.69 L141.52 301.56 L142.64 301.85 L143.77 301.08 L144.90 301.43 L146.02 300.97 L147.15 301.39 L148.27 300.63 L149.40 301.00 L150.58 301.00 L151.76 301.29 L152.93 301.80 L154.11 301.44 L155.29 302.07 L156.47 302.04 L157.64 302.34 L158.82 302.75 L160.00 303.00 L161.27 303.89 L162.53 303.85 L163.80 304.76 L165.07 304.40 L166.33 305.59 L167.60 305.60 L168.78 305.75 L169.96 305.87 L171.14 306.72 L172.32 307.17 L173.50 306.56 L174.68 307.11 L175.86 307.90 L177.04 307.76 L178.22 307.95 L179.40 308.50 L180.53 308.19 L181.66 308.41 L182.79 309.17 L183.92 309.72 L185.05 309.92 L186.18 309.61 L187.32 309.32 L188.45 309.80 L189.58 310.45 L190.71 310.68 L191.84 310.67 L192.97 310.44 L194.10 310.90 L195.23 310.97 L196.36 310.97 L197.49 311.17 L198.62 310.85 L199.75 311.58 L200.88 311.57 L202.02 310.89 L203.15 311.06 L204.28 311.69 L205.41 311.14 L206.54 311.85 L207.67 311.47 L208.80 311.50 L209.93 311.62 L211.06 311.55 L212.19 310.98 L213.32 310.98 L214.45 310.87 L215.58 311.22 L216.72 311.16 L217.85 310.52 L218.98 311.19 L220.11 310.65 L221.24 310.40 L222.37 310.51 L223.50 310.50 L224.61 310.98 L225.73 310.56 L226.84 310.62 L227.95 310.92 L229.06 310.96 L230.18 310.76 L231.29 310.42 L232.40 310.59 L233.52 310.90 L234.63 310.79 L235.74 310.58 L236.85 310.35 L237.97 310.37 L239.08 310.74 L240.19 310.56 L241.31 310.02 L242.42 310.71 L243.53 310.90 L244.65 310.80 L245.76 310.90 L246.87 310.91 L247.98 310.53 L249.10 310.79 L250.21 310.38 L251.32 310.10 L252.44 310.35 L253.55 310.31 L254.66 310.93 L255.77 310.69 L256.89 310.54 L258.00 310.50 L259.11 310.64 L260.21 310.16 L261.32 310.59 L262.42 310.77 L263.53 310.49 L264.63 310.36 L265.74 310.54 L266.84 310.47 L267.95 310.85 L269.05 310.33 L270.16 310.29 L271.26 310.53 L272.37 310.94 L273.47 311.02 L274.58 310.94 L275.68 311.23 L276.79 310.68 L277.89 310.36 L279.00 310.84 L280.11 310.81 L281.21 310.57 L282.32 311.07 L283.42 310.76 L284.53 310.68 L285.63 310.79 L286.74 311.42 L287.84 310.51 L288.95 310.88 L290.05 310.81 L291.16 310.75 L292.26 311.00 L293.37 310.81 L294.47 311.53 L295.58 311.13 L296.68 311.34 L297.79 310.83 L298.89 311.15 L300.00 311.20 L301.13 311.30 L302.26 311.53 L303.39 310.93 L304.52 311.13 L305.65 311.52 L306.77 311.49 L307.90 310.88 L309.03 311.19 L310.16 311.40 L311.29 311.03 L312.42 311.30 L313.55 311.29 L314.68 311.59 L315.81 311.16 L316.94 311.28 L318.06 310.95 L319.19 311.32 L320.32 310.91 L321.45 311.08 L322.58 310.93 L323.71 310.87 L324.84 310.69 L325.97 310.78 L327.10 311.09 L328.23 310.79 L329.35 310.58 L330.48 311.33 L331.61 310.80 L332.74 311.45 L333.87 311.11 L335.00 311.00" stroke="#e4ec1e" stroke-width="1.9"/>
<path d="M23.50 302.00 L25.20 260.00 L26.90 235.30 L27.70 222.00 L28.80 213.00 L29.80 210.60 L31.30 217.70 L32.60 225.60 L34.80 229.10 L36.10 227.51 L37.40 226.50 L38.75 224.75 L40.10 223.00 L41.90 226.50 L43.20 233.50 L44.50 240.00 L46.00 250.00 L47.10 256.80 L49.30 267.70 L50.40 270.60 L51.50 273.50 L52.60 276.40 L54.03 278.93 L55.47 281.47 L56.90 284.00 L58.17 284.92 L59.45 285.62 L60.73 286.52 L62.00 286.80 L63.18 286.72 L64.37 287.08 L65.55 287.28 L66.73 287.67 L67.92 288.58 L69.10 288.60 L70.27 288.28 L71.44 288.88 L72.61 288.62 L73.78 288.83 L74.95 289.12 L76.12 289.73 L77.29 289.57 L78.46 288.98 L79.63 289.41 L80.80 289.80 L81.92 289.38 L83.03 290.25 L84.15 290.17 L85.26 290.17 L86.38 290.19 L87.49 290.09 L88.61 290.34 L89.73 290.15 L90.84 289.51 L91.96 290.22 L93.07 289.78 L94.19 290.11 L95.31 289.88 L96.42 289.72 L97.54 289.64 L98.65 289.72 L99.77 289.58 L100.88 289.34 L102.00 289.80 L103.13 290.34 L104.26 290.47 L105.39 290.86 L106.53 290.66 L107.66 290.65 L108.79 291.05 L109.92 290.47 L111.05 291.28 L112.18 291.15 L113.32 290.99 L114.45 291.18 L115.58 291.72 L116.71 291.56 L117.84 291.96 L118.97 292.30 L120.11 292.20 L121.24 292.04 L122.37 292.63 L123.50 292.80 L124.62 292.45 L125.73 292.41 L126.85 292.32 L127.96 292.49 L129.08 292.10 L130.19 292.76 L131.31 293.09 L132.43 292.37 L133.54 292.73 L134.66 292.95 L135.77 291.85 L136.89 291.93 L138.01 292.69 L139.12 292.69 L140.24 292.41 L141.35 291.80 L142.47 292.07 L143.58 292.58 L144.70 292.10 L145.88 292.76 L147.05 292.86 L148.22 292.34 L149.40 293.32 L150.57 292.95 L151.75 293.56 L152.93 293.06 L154.10 294.27 L155.28 294.02 L156.45 294.37 L157.62 293.95 L158.80 294.50 L159.98 294.93 L161.15 295.17 L162.32 295.47 L163.50 295.48 L164.68 296.21 L165.85 296.03 L167.02 296.27 L168.20 296.80 L169.38 296.76 L170.56 297.74 L171.74 297.41 L172.92 297.91 L174.10 298.08 L175.28 299.13 L176.46 299.39 L177.64 299.73 L178.82 299.49 L180.00 300.40 L181.11 300.36 L182.22 300.28 L183.33 300.01 L184.44 299.94 L185.56 301.16 L186.67 300.15 L187.78 300.40 L188.89 300.39 L190.00 300.82 L191.11 300.23 L192.22 300.73 L193.33 300.64 L194.44 301.23 L195.56 300.27 L196.67 300.70 L197.78 300.93 L198.89 301.53 L200.00 301.00 L201.12 301.03 L202.25 301.00 L203.38 301.25 L204.50 300.81 L205.62 300.51 L206.75 301.08 L207.88 301.59 L209.00 301.40 L210.12 300.83 L211.25 301.36 L212.38 301.57 L213.50 300.88 L214.62 301.29 L215.75 301.02 L216.88 300.90 L218.00 300.97 L219.12 300.88 L220.25 301.07 L221.38 300.71 L222.50 301.15 L223.62 300.80 L224.75 301.62 L225.88 301.44 L227.00 300.74 L228.12 301.68 L229.25 300.99 L230.38 301.35 L231.50 301.45 L232.62 301.20 L233.75 301.16 L234.88 301.35 L236.00 301.01 L237.12 301.89 L238.25 301.01 L239.38 301.87 L240.50 301.50 L241.10 293.30 L241.60 313.30 L242.20 302.20 L243.33 301.86 L244.46 301.96 L245.59 302.07 L246.71 301.64 L247.84 301.75 L248.97 302.03 L250.10 302.13 L251.23 302.65 L252.36 302.79 L253.49 301.65 L254.61 302.24 L255.74 301.76 L256.87 302.56 L258.00 302.20 L259.10 301.99 L260.20 302.67 L261.30 302.25 L262.40 301.75 L263.50 301.61 L264.60 301.90 L265.70 302.64 L266.80 301.78 L267.90 302.17 L269.00 302.05 L270.10 302.01 L271.20 302.56 L272.30 301.86 L273.40 302.46 L274.50 302.40 L275.60 302.72 L276.70 302.22 L277.80 302.70 L278.90 302.13 L280.00 302.29 L281.10 302.34 L282.20 302.61 L283.30 302.68 L284.40 301.74 L285.50 301.76 L286.60 302.24 L287.70 302.57 L288.80 302.24 L289.90 301.96 L291.00 302.75 L292.10 301.96 L293.20 301.70 L294.30 301.66 L295.40 301.64 L296.50 302.47 L297.60 301.73 L298.70 302.46 L299.80 302.64 L300.90 302.80 L302.00 302.57 L303.10 302.11 L304.20 302.35 L305.30 302.60 L306.40 302.46 L307.50 301.95 L308.60 302.51 L309.70 301.73 L310.80 302.20 L311.30 296.10 L311.80 302.00 L312.90 301.71 L314.01 302.48 L315.11 301.79 L316.22 301.49 L317.32 302.06 L318.43 301.60 L319.53 301.00 L320.64 300.98 L321.74 301.20 L322.85 301.23 L323.95 301.90 L325.06 301.01 L326.16 301.68 L327.27 301.62 L328.37 301.04 L329.48 301.68 L330.58 301.34 L331.69 300.95 L332.79 300.63 L333.90 300.81 L335.00 300.80" stroke="#9c4429" stroke-width="1.7"/>
<path d="M23.50 310.00 L24.70 309.14 L25.90 309.86 L27.10 309.30 L28.30 287.00 L29.50 264.20 L31.20 262.40 L33.00 263.00 L34.80 260.00 L36.50 261.80 L37.70 261.44 L38.90 260.60 L40.10 260.74 L41.30 259.10 L42.50 258.90 L43.67 258.38 L44.83 259.01 L46.00 258.50 L47.33 258.89 L48.67 258.45 L50.00 258.90 L51.20 259.14 L52.40 258.63 L53.60 259.19 L54.80 258.09 L56.00 258.21 L57.20 259.24 L58.40 258.32 L59.60 258.12 L60.80 258.94 L62.00 258.40 L63.17 257.17 L64.35 255.95 L65.53 254.72 L66.70 253.50 L67.88 252.54 L69.05 250.59 L70.23 250.06 L71.40 248.80 L72.80 242.90 L74.20 237.00 L76.10 228.80 L77.30 236.45 L78.50 244.10 L79.67 243.60 L80.83 242.03 L82.00 241.80 L83.17 237.87 L84.33 233.93 L85.50 230.00 L86.70 232.95 L87.90 235.90 L89.05 237.65 L90.20 239.40 L91.40 239.04 L92.60 238.20 L93.75 241.75 L94.90 245.30 L96.10 245.30 L97.30 246.50 L98.65 244.70 L100.00 242.90 L101.17 241.87 L102.33 240.70 L103.50 240.60 L104.70 239.03 L105.90 237.47 L107.10 235.90 L108.27 234.63 L109.43 235.06 L110.60 233.50 L111.77 232.58 L112.93 232.75 L114.10 231.20 L115.27 228.43 L116.43 225.67 L117.60 222.90 L119.15 218.80 L120.70 214.70 L121.90 218.25 L123.10 221.80 L124.50 224.70 L125.90 227.60 L127.07 226.74 L128.23 226.24 L129.40 225.30 L130.57 225.50 L131.73 224.80 L132.90 224.10 L134.10 222.88 L135.30 222.90 L136.45 219.40 L137.60 215.90 L139.30 211.20 L141.20 222.90 L142.80 234.70 L144.35 237.05 L145.90 239.40 L147.08 239.68 L148.26 239.88 L149.43 239.29 L150.61 239.28 L151.79 240.67 L152.97 240.22 L154.14 239.84 L155.32 240.39 L156.50 240.60 L157.68 240.00 L158.85 240.78 L160.03 240.15 L161.20 239.36 L162.38 240.36 L163.55 239.04 L164.72 239.20 L165.90 239.40 L167.08 238.44 L168.25 239.38 L169.43 238.18 L170.60 238.64 L171.78 237.75 L172.95 238.17 L174.12 238.30 L175.30 237.86 L176.47 237.53 L177.65 237.38 L178.82 237.10 L180.00 237.00 L181.22 236.93 L182.45 235.90 L183.68 236.28 L184.90 235.68 L186.12 236.46 L187.35 236.35 L188.58 234.73 L189.80 235.20 L190.98 234.26 L192.16 234.79 L193.33 234.21 L194.51 232.96 L195.69 233.69 L196.87 233.71 L198.04 232.51 L199.22 232.02 L200.40 231.90 L201.57 232.54 L202.73 233.67 L203.90 233.50 L205.05 231.50 L206.20 229.50 L207.38 229.25 L208.55 229.43 L209.72 229.38 L210.90 230.21 L212.07 230.08 L213.25 229.86 L214.42 230.20 L215.60 230.50 L216.78 229.39 L217.95 229.47 L219.12 230.19 L220.30 229.19 L221.47 228.34 L222.65 229.02 L223.82 227.74 L225.00 227.60 L226.19 227.50 L227.38 227.46 L228.56 227.93 L229.75 228.32 L230.94 228.67 L232.12 230.00 L233.31 229.32 L234.50 230.00 L235.67 229.36 L236.84 229.69 L238.01 229.95 L239.18 228.71 L240.35 229.22 L241.52 228.35 L242.69 228.42 L243.86 228.23 L245.03 228.55 L246.20 227.60 L247.38 228.20 L248.56 227.99 L249.74 228.72 L250.92 228.15 L252.10 228.36 L253.28 229.48 L254.46 229.00 L255.64 229.56 L256.82 229.01 L258.00 229.50 L259.10 230.21 L260.20 229.77 L261.30 229.23 L262.40 230.38 L263.50 229.68 L264.60 229.52 L265.70 229.44 L266.80 229.23 L267.90 229.43 L269.00 230.26 L270.10 230.00 L271.28 229.33 L272.45 229.41 L273.62 229.62 L274.80 229.67 L275.98 229.31 L277.15 229.86 L278.32 228.91 L279.50 228.99 L280.68 228.98 L281.85 228.41 L283.02 228.46 L284.20 228.80 L285.38 227.90 L286.57 228.49 L287.75 227.23 L288.93 227.74 L290.12 226.69 L291.30 227.04 L292.48 226.72 L293.67 225.90 L294.85 226.49 L296.03 225.72 L297.22 225.23 L298.40 224.80 L299.57 224.42 L300.75 225.35 L301.93 225.48 L303.10 226.15 L304.27 227.24 L305.45 227.48 L306.62 226.55 L307.80 227.60 L308.98 227.99 L310.15 228.49 L311.32 227.97 L312.50 227.35 L313.68 228.69 L314.85 228.08 L316.02 229.07 L317.20 229.00 L318.38 229.03 L319.55 229.29 L320.72 228.01 L321.90 228.80 L323.07 228.87 L324.25 227.69 L325.43 227.02 L326.60 227.20 L327.77 226.56 L328.94 226.46 L330.11 225.08 L331.29 225.35 L332.46 225.44 L333.63 224.54 L334.80 224.10" stroke="#2e1a12" stroke-width="2.0"/>
</g>
<path d="M23.30 192.80 V328.40 H335.10" fill="none" stroke="#2a2a2a" stroke-width="1.3"/>
<line x1="19.30" y1="210.40" x2="23.30" y2="210.40" stroke="#2a2a2a" stroke-width="1.2"/>
<line x1="21.30" y1="236.15" x2="23.30" y2="236.15" stroke="#2a2a2a" stroke-width="1.2"/>
<line x1="19.30" y1="261.90" x2="23.30" y2="261.90" stroke="#2a2a2a" stroke-width="1.2"/>
<line x1="21.30" y1="287.65" x2="23.30" y2="287.65" stroke="#2a2a2a" stroke-width="1.2"/>
<line x1="19.30" y1="313.40" x2="23.30" y2="313.40" stroke="#2a2a2a" stroke-width="1.2"/>
<line x1="33.95" y1="328.40" x2="33.95" y2="330.40" stroke="#2a2a2a" stroke-width="1.1"/>
<line x1="56.30" y1="328.40" x2="56.30" y2="331.90" stroke="#2a2a2a" stroke-width="1.1"/>
<line x1="78.65" y1="328.40" x2="78.65" y2="330.40" stroke="#2a2a2a" stroke-width="1.1"/>
<line x1="101.00" y1="328.40" x2="101.00" y2="331.90" stroke="#2a2a2a" stroke-width="1.1"/>
<line x1="123.35" y1="328.40" x2="123.35" y2="330.40" stroke="#2a2a2a" stroke-width="1.1"/>
<line x1="145.70" y1="328.40" x2="145.70" y2="331.90" stroke="#2a2a2a" stroke-width="1.1"/>
<line x1="168.05" y1="328.40" x2="168.05" y2="330.40" stroke="#2a2a2a" stroke-width="1.1"/>
<line x1="190.40" y1="328.40" x2="190.40" y2="331.90" stroke="#2a2a2a" stroke-width="1.1"/>
<line x1="212.75" y1="328.40" x2="212.75" y2="330.40" stroke="#2a2a2a" stroke-width="1.1"/>
<line x1="235.10" y1="328.40" x2="235.10" y2="331.90" stroke="#2a2a2a" stroke-width="1.1"/>
<line x1="257.45" y1="328.40" x2="257.45" y2="330.40" stroke="#2a2a2a" stroke-width="1.1"/>
<line x1="279.80" y1="328.40" x2="279.80" y2="331.90" stroke="#2a2a2a" stroke-width="1.1"/>
<line x1="302.15" y1="328.40" x2="302.15" y2="330.40" stroke="#2a2a2a" stroke-width="1.1"/>
<line x1="324.50" y1="328.40" x2="324.50" y2="331.90" stroke="#2a2a2a" stroke-width="1.1"/>
<text x="56.30" y="343.1" font-size="10.2" font-weight="bold" text-anchor="middle">250</text>
<text x="101.00" y="343.1" font-size="10.2" font-weight="bold" text-anchor="middle">500</text>
<text x="145.70" y="343.1" font-size="10.2" font-weight="bold" text-anchor="middle">750</text>
<text x="190.40" y="343.1" font-size="10.2" font-weight="bold" text-anchor="middle">1000</text>
<text x="235.10" y="343.1" font-size="10.2" font-weight="bold" text-anchor="middle">1250</text>
<text x="279.80" y="343.1" font-size="10.2" font-weight="bold" text-anchor="middle">1500</text>
<text x="324.50" y="343.1" font-size="10.2" font-weight="bold" text-anchor="middle">1750</text>
<text x="179.1" y="358.0" font-size="9.6" font-weight="bold" text-anchor="middle">Raman shift (cm<tspan font-size="5.95" dy="-3.65">-1</tspan><tspan dy="3.65">)</tspan></text>
<text transform="translate(7.9 260.0) rotate(-90)" x="0" y="4.03" font-size="11.2" font-weight="bold" text-anchor="middle">(a.u.)</text>
<line x1="272.2" y1="246.6" x2="290.7" y2="246.6" stroke="#33195f" stroke-width="1.4"/>
<text x="292.6" y="249.10" font-size="8" fill="#222">Zn5</text>
<line x1="272.2" y1="256.1" x2="290.7" y2="256.1" stroke="#6faaf0" stroke-width="1.4"/>
<text x="292.6" y="258.60" font-size="8" fill="#222">Zn5-300</text>
<line x1="272.2" y1="265.5" x2="290.7" y2="265.5" stroke="#e4ec1e" stroke-width="1.4"/>
<text x="292.6" y="268.00" font-size="8" fill="#222">Zn5-450</text>
<line x1="272.2" y1="274.9" x2="290.7" y2="274.9" stroke="#9a5530" stroke-width="1.4"/>
<text x="292.6" y="277.40" font-size="8" fill="#222">Zn5-600</text>
<line x1="272.2" y1="284.4" x2="290.7" y2="284.4" stroke="#2a1a12" stroke-width="1.4"/>
<text x="292.6" y="286.90" font-size="8" fill="#222">Zn5-res</text>
<line x1="55.38" y1="378.6" x2="55.38" y2="513.7" stroke="#f0f0f2" stroke-width="0.9"/>
<line x1="98.16" y1="378.6" x2="98.16" y2="513.7" stroke="#f0f0f2" stroke-width="0.9"/>
<line x1="140.95" y1="378.6" x2="140.95" y2="513.7" stroke="#f0f0f2" stroke-width="0.9"/>
<line x1="183.73" y1="378.6" x2="183.73" y2="513.7" stroke="#f0f0f2" stroke-width="0.9"/>
<line x1="226.51" y1="378.6" x2="226.51" y2="513.7" stroke="#f0f0f2" stroke-width="0.9"/>
<line x1="269.30" y1="378.6" x2="269.30" y2="513.7" stroke="#f0f0f2" stroke-width="0.9"/>
<line x1="312.08" y1="378.6" x2="312.08" y2="513.7" stroke="#f0f0f2" stroke-width="0.9"/>
<rect x="23.5" y="392" width="9" height="48" fill="#fde3f1" opacity="0.9"/>
<rect x="32.5" y="392" width="15" height="36" fill="#e0f9fa" opacity="0.8"/>
<rect x="63.5" y="456" width="8" height="26" fill="#c4f1f8" opacity="0.95"/>
<rect x="100" y="480" width="235" height="18" fill="#fdeaf4" opacity="0.6"/>
<rect x="72" y="395" width="9" height="55" fill="#fde3f1" opacity="0.5"/>
<clipPath id="p2"><rect x="23.3" y="376.6" width="311.8" height="137.10000000000002"/></clipPath>
<g clip-path="url(#p2)" fill="none" stroke-linejoin="round" stroke-linecap="round">
<path d="M23.50 500.00 L24.40 499.50 L25.51 499.84 L26.62 499.56 L27.73 499.58 L28.84 499.65 L29.95 498.94 L31.06 499.26 L32.17 499.46 L33.28 499.37 L34.39 499.00 L35.51 498.54 L36.62 498.72 L37.73 499.24 L38.84 498.28 L39.95 498.43 L41.06 499.00 L42.17 498.44 L43.28 498.13 L44.39 498.18 L45.50 498.30 L46.62 498.67 L47.73 498.06 L48.85 498.12 L49.96 498.28 L51.08 498.42 L52.19 498.07 L53.31 497.62 L54.43 498.08 L55.54 497.50 L56.66 497.53 L57.77 497.59 L58.89 498.05 L60.01 497.60 L61.12 497.97 L62.24 497.41 L63.35 497.33 L64.47 497.20 L65.58 497.84 L66.70 497.60 L68.10 495.80 L69.50 494.00 L70.60 490.90 L72.00 492.00 L72.80 496.00 L73.60 490.00 L75.10 441.90 L76.20 496.50 L77.30 460.00 L78.50 396.90 L79.60 480.00 L80.50 490.50 L82.50 489.60 L83.83 490.39 L85.17 490.19 L86.50 490.90 L87.85 487.45 L89.20 484.00 L91.00 473.70 L92.80 486.00 L94.50 494.00 L95.75 494.84 L97.00 496.20 L98.25 495.94 L99.50 496.79 L100.75 496.68 L102.00 497.10 L103.13 496.84 L104.26 497.45 L105.39 497.50 L106.53 497.45 L107.66 497.25 L108.79 497.84 L109.92 497.86 L111.05 497.83 L112.18 497.66 L113.32 498.53 L114.45 498.56 L115.58 498.49 L116.71 498.90 L117.84 498.58 L118.97 498.44 L120.11 498.32 L121.24 498.91 L122.37 498.92 L123.50 499.00 L124.62 498.90 L125.75 499.43 L126.87 499.24 L128.00 498.48 L129.12 499.22 L130.24 498.30 L131.37 498.92 L132.49 498.55 L133.61 498.93 L134.74 499.12 L135.86 498.66 L136.99 498.86 L138.11 498.12 L139.23 498.70 L140.36 498.12 L141.48 498.42 L142.60 498.27 L143.73 497.97 L144.85 498.61 L145.98 497.93 L147.10 498.30 L148.27 497.94 L149.44 497.65 L150.61 498.10 L151.78 497.62 L152.95 497.24 L154.12 497.11 L155.29 497.18 L156.46 497.35 L157.63 496.73 L158.80 497.10 L159.98 496.81 L161.16 497.65 L162.34 497.70 L163.52 497.50 L164.70 497.86 L165.88 497.87 L167.06 498.21 L168.24 498.51 L169.42 498.53 L170.60 499.00 L171.78 498.70 L172.95 498.73 L174.12 498.80 L175.30 499.06 L176.47 499.39 L177.65 499.15 L178.82 498.95 L180.00 499.00 L181.11 498.46 L182.22 498.60 L183.33 498.99 L184.44 498.72 L185.55 499.11 L186.66 499.13 L187.77 498.47 L188.88 498.49 L189.99 498.38 L191.10 498.71 L192.21 498.09 L193.32 498.22 L194.43 498.77 L195.54 498.22 L196.65 498.77 L197.76 498.15 L198.87 498.54 L199.98 498.12 L201.09 497.71 L202.20 498.14 L203.31 497.73 L204.42 498.39 L205.53 498.13 L206.64 497.91 L207.75 498.26 L208.86 497.83 L209.97 498.21 L211.08 497.91 L212.19 497.33 L213.30 497.60 L214.48 496.39 L215.65 495.95 L216.82 494.20 L218.00 493.60 L219.17 494.20 L220.33 493.37 L221.50 494.20 L222.67 494.18 L223.83 494.09 L225.00 494.30 L226.18 494.33 L227.36 494.24 L228.54 493.95 L229.72 493.80 L230.90 493.50 L232.08 494.04 L233.26 494.19 L234.44 493.62 L235.62 494.03 L236.80 493.60 L237.98 493.41 L239.15 493.18 L240.32 493.64 L241.50 493.68 L242.68 492.75 L243.85 493.45 L245.02 492.81 L246.20 492.90 L247.38 492.62 L248.57 491.59 L249.75 491.74 L250.93 490.54 L252.12 489.86 L253.30 489.60 L254.65 489.40 L256.00 490.10 L257.18 490.12 L258.37 490.46 L259.55 491.57 L260.73 491.15 L261.92 491.63 L263.10 492.40 L264.27 492.26 L265.44 492.28 L266.61 493.04 L267.78 492.39 L268.95 493.18 L270.12 492.97 L271.29 492.89 L272.46 493.09 L273.63 493.51 L274.80 493.60 L275.98 493.23 L277.16 493.25 L278.34 493.12 L279.51 493.15 L280.69 493.20 L281.87 492.66 L283.05 492.86 L284.23 492.84 L285.41 492.30 L286.59 492.65 L287.76 491.85 L288.94 492.14 L290.12 491.87 L291.30 491.90 L292.48 491.35 L293.66 491.70 L294.84 491.71 L296.02 491.16 L297.20 490.85 L298.38 491.22 L299.56 491.13 L300.74 490.59 L301.92 490.34 L303.10 490.10 L304.27 490.05 L305.44 489.92 L306.61 489.71 L307.78 489.38 L308.95 489.40 L310.12 489.21 L311.29 488.92 L312.46 488.61 L313.63 488.26 L314.80 488.20 L315.98 487.81 L317.16 488.01 L318.34 487.71 L319.52 487.77 L320.70 487.38 L321.88 488.01 L323.06 487.13 L324.24 487.78 L325.42 487.37 L326.60 487.20 L327.77 487.51 L328.94 487.38 L330.11 486.57 L331.29 486.57 L332.46 487.20 L333.63 486.76 L334.80 486.50" stroke="#33195f" stroke-width="1.6"/>
<path d="M23.50 496.00 L24.50 470.00 L26.00 440.00 L27.25 430.00 L28.50 420.00 L29.75 417.00 L31.00 414.00 L32.50 412.50 L34.00 411.00 L36.10 408.00 L37.55 405.00 L39.00 402.00 L40.17 400.33 L41.33 398.67 L42.50 397.00 L43.75 398.50 L45.00 400.00 L47.00 415.00 L48.25 427.50 L49.50 440.00 L51.50 458.00 L52.75 464.00 L54.00 470.00 L55.33 472.67 L56.67 475.33 L58.00 478.00 L59.20 478.53 L60.40 479.75 L61.60 480.51 L62.80 481.18 L64.00 482.00 L65.17 482.44 L66.33 483.57 L67.50 484.00 L69.30 470.00 L70.20 456.00 L71.20 472.00 L72.50 485.00 L73.63 485.36 L74.77 485.24 L75.90 485.35 L77.04 485.25 L78.17 485.18 L79.31 485.59 L80.44 485.88 L81.58 485.58 L82.71 486.27 L83.85 485.94 L84.98 486.06 L86.12 486.02 L87.25 486.90 L88.38 486.81 L89.52 487.03 L90.65 486.94 L91.79 486.59 L92.92 486.94 L94.06 487.19 L95.19 487.00 L96.33 487.78 L97.46 487.43 L98.60 487.38 L99.73 488.02 L100.87 487.58 L102.00 488.00 L103.11 488.37 L104.22 488.02 L105.33 488.12 L106.44 487.99 L107.56 488.13 L108.67 487.92 L109.78 487.82 L110.89 488.51 L112.00 488.04 L113.11 488.50 L114.22 488.07 L115.33 488.71 L116.44 488.68 L117.56 488.59 L118.67 488.63 L119.78 488.51 L120.89 488.66 L122.00 488.20 L123.11 488.51 L124.22 488.82 L125.33 488.34 L126.44 488.95 L127.56 488.95 L128.67 488.59 L129.78 488.59 L130.89 488.68 L132.00 488.66 L133.11 489.17 L134.22 488.71 L135.33 488.45 L136.44 488.54 L137.56 489.06 L138.67 489.31 L139.78 488.94 L140.89 488.97 L142.00 489.00 L143.12 489.30 L144.24 489.72 L145.36 489.56 L146.48 490.13 L147.60 490.35 L148.72 490.66 L149.84 490.56 L150.96 490.82 L152.08 491.22 L153.20 491.94 L154.32 491.74 L155.44 492.20 L156.56 492.23 L157.68 492.32 L158.80 492.55 L159.92 493.41 L161.04 493.64 L162.16 493.58 L163.28 494.09 L164.40 494.34 L165.52 494.78 L166.64 495.09 L167.76 494.91 L168.88 495.63 L170.00 495.50 L171.11 496.09 L172.22 496.02 L173.33 496.47 L174.44 496.38 L175.56 496.51 L176.67 496.63 L177.78 497.36 L178.89 497.01 L180.00 497.50 L181.10 497.17 L182.21 497.76 L183.31 497.75 L184.41 497.53 L185.52 497.82 L186.62 497.20 L187.72 497.38 L188.83 497.41 L189.93 497.53 L191.03 497.34 L192.14 497.27 L193.24 497.49 L194.34 497.95 L195.45 498.03 L196.55 497.85 L197.66 497.65 L198.76 497.48 L199.86 498.05 L200.97 497.72 L202.07 497.89 L203.17 497.34 L204.28 497.50 L205.38 498.01 L206.48 497.98 L207.59 498.06 L208.69 497.85 L209.79 497.72 L210.90 497.85 L212.00 497.80 L214.20 491.00 L215.60 488.20 L217.50 496.00 L218.62 496.32 L219.75 495.93 L220.88 496.15 L222.00 495.99 L223.12 496.42 L224.25 495.86 L225.38 496.44 L226.50 496.70 L227.62 495.99 L228.75 496.49 L229.88 496.57 L231.00 496.78 L232.12 496.61 L233.25 496.39 L234.38 496.55 L235.50 497.03 L236.62 497.03 L237.75 496.46 L238.88 496.47 L240.00 496.51 L241.12 496.50 L242.25 496.87 L243.38 496.67 L244.50 497.29 L245.62 497.17 L246.75 496.78 L247.88 497.16 L249.00 497.03 L250.12 497.20 L251.25 497.03 L252.38 497.02 L253.50 497.08 L254.62 497.28 L255.75 497.58 L256.88 497.50 L258.00 497.50 L259.11 497.12 L260.21 497.64 L261.32 497.76 L262.42 497.67 L263.53 497.67 L264.63 497.03 L265.74 497.38 L266.84 497.05 L267.95 497.59 L269.05 497.11 L270.16 497.52 L271.26 497.14 L272.37 497.49 L273.47 497.17 L274.58 496.94 L275.68 497.20 L276.79 497.12 L277.89 497.58 L279.00 497.09 L280.11 497.24 L281.21 497.26 L282.32 497.57 L283.42 496.88 L284.53 497.27 L285.63 497.18 L286.74 497.35 L287.84 497.52 L288.95 496.98 L290.05 497.28 L291.16 497.13 L292.26 497.14 L293.37 496.73 L294.47 497.32 L295.58 497.43 L296.68 496.92 L297.79 496.88 L298.89 497.41 L300.00 497.00 L301.12 496.57 L302.24 496.44 L303.37 496.33 L304.49 496.81 L305.61 496.65 L306.73 496.29 L307.86 496.32 L308.98 495.73 L310.10 496.00 L311.28 495.88 L312.46 495.47 L313.64 495.29 L314.82 494.95 L316.00 494.72 L317.18 494.34 L318.36 493.96 L319.54 494.03 L320.72 493.64 L321.90 493.60 L323.07 493.52 L324.24 493.37 L325.41 493.06 L326.58 492.60 L327.75 492.19 L328.92 492.07 L330.09 491.91 L331.26 491.79 L332.43 491.81 L333.60 491.20 L335.00 490.50" stroke="#6faaf0" stroke-width="1.5"/>
<path d="M23.50 501.00 L24.50 470.00 L25.50 445.00 L26.70 434.70 L27.90 424.40 L29.10 416.20 L30.25 416.66 L31.40 416.20 L32.60 415.24 L33.80 415.00 L34.95 412.05 L36.10 409.10 L37.30 407.35 L38.50 405.60 L39.67 403.10 L40.83 400.60 L42.00 398.10 L43.20 398.42 L44.40 399.70 L45.55 406.15 L46.70 412.60 L47.85 423.20 L49.00 433.80 L50.20 445.00 L51.40 457.10 L52.60 463.00 L53.80 468.90 L54.97 472.03 L56.13 475.17 L57.30 478.30 L58.47 479.77 L59.65 481.25 L60.83 482.73 L62.00 484.20 L63.18 485.08 L64.37 484.65 L65.55 484.97 L66.73 485.88 L67.92 485.96 L69.10 486.50 L70.27 486.99 L71.45 486.43 L72.62 487.26 L73.80 486.72 L74.97 487.10 L76.15 487.53 L77.33 487.39 L78.50 487.72 L79.67 487.61 L80.85 487.05 L82.03 487.98 L83.20 487.70 L84.31 487.86 L85.41 487.65 L86.52 487.60 L87.62 488.33 L88.73 488.14 L89.84 488.56 L90.94 488.47 L92.05 488.73 L93.15 488.40 L94.26 488.60 L95.36 488.59 L96.47 488.31 L97.58 489.07 L98.68 488.50 L99.79 489.04 L100.89 489.28 L102.00 488.90 L103.13 489.09 L104.26 488.62 L105.39 489.34 L106.53 489.21 L107.66 488.77 L108.79 488.67 L109.92 489.19 L111.05 488.73 L112.18 489.66 L113.32 489.27 L114.45 489.32 L115.58 489.25 L116.71 489.54 L117.84 489.83 L118.97 489.26 L120.11 489.36 L121.24 489.61 L122.37 489.36 L123.50 489.60 L124.61 489.65 L125.72 489.56 L126.84 489.41 L127.95 489.61 L129.06 489.42 L130.17 488.94 L131.28 489.81 L132.39 489.13 L133.51 489.16 L134.62 489.09 L135.73 489.58 L136.84 489.56 L137.95 489.08 L139.06 488.92 L140.18 488.58 L141.29 489.34 L142.40 488.90 L143.53 488.85 L144.66 489.51 L145.78 489.59 L146.91 489.85 L148.04 490.16 L149.17 490.27 L150.30 490.40 L151.42 491.18 L152.55 491.72 L153.68 491.85 L154.81 491.68 L155.94 492.45 L157.06 492.09 L158.19 492.73 L159.32 493.43 L160.45 493.80 L161.58 493.62 L162.70 494.29 L163.83 494.22 L164.96 494.52 L166.09 494.86 L167.22 495.55 L168.34 495.58 L169.47 495.59 L170.60 495.90 L171.78 496.43 L172.95 496.64 L174.12 496.65 L175.30 497.38 L176.47 497.72 L177.65 497.81 L178.82 498.44 L180.00 498.30 L181.11 497.82 L182.23 498.31 L183.34 498.44 L184.46 498.15 L185.57 497.99 L186.69 498.51 L187.80 498.25 L188.91 498.09 L190.03 497.87 L191.14 498.80 L192.26 498.18 L193.37 497.95 L194.49 498.05 L195.60 498.09 L196.71 498.71 L197.83 498.03 L198.94 498.12 L200.06 497.95 L201.17 498.32 L202.29 498.06 L203.40 498.20 L204.51 498.60 L205.63 498.79 L206.74 498.70 L207.86 497.91 L208.97 498.25 L210.09 498.73 L211.20 497.91 L212.31 498.09 L213.43 498.38 L214.54 498.27 L215.66 498.64 L216.77 498.61 L217.89 498.36 L219.00 498.15 L220.11 498.13 L221.23 498.17 L222.34 497.97 L223.46 498.58 L224.57 498.07 L225.69 498.81 L226.80 498.57 L227.91 497.98 L229.03 498.42 L230.14 498.53 L231.26 497.97 L232.37 498.42 L233.49 497.97 L234.60 498.71 L235.71 497.95 L236.83 498.58 L237.94 498.93 L239.06 498.80 L240.17 498.19 L241.29 498.49 L242.40 498.10 L243.51 498.31 L244.63 498.83 L245.74 498.79 L246.86 497.98 L247.97 498.35 L249.09 498.62 L250.20 498.16 L251.31 498.79 L252.43 498.88 L253.54 498.54 L254.66 498.35 L255.77 498.84 L256.89 498.51 L258.00 498.50 L259.10 498.17 L260.20 498.25 L261.30 498.12 L262.40 498.78 L263.50 498.44 L264.60 498.61 L265.70 498.72 L266.80 498.86 L267.90 498.06 L269.00 498.26 L270.10 498.72 L271.20 498.59 L272.30 498.20 L273.40 498.46 L274.50 497.98 L275.60 497.93 L276.70 497.81 L277.80 498.12 L278.90 497.96 L280.00 498.23 L281.10 498.67 L282.20 497.84 L283.30 498.23 L284.40 498.52 L285.50 498.24 L286.60 498.16 L287.70 498.38 L288.80 497.62 L289.90 498.53 L291.00 498.26 L292.10 498.36 L293.20 498.37 L294.30 497.63 L295.40 497.58 L296.50 497.68 L297.60 497.99 L298.70 498.41 L299.80 498.37 L300.90 497.85 L302.00 498.05 L303.10 498.15 L304.20 497.73 L305.30 498.36 L306.40 498.31 L307.50 498.08 L308.60 498.24 L309.70 498.13 L310.80 497.97 L311.90 497.62 L313.00 497.57 L314.10 497.51 L315.20 497.31 L316.30 498.17 L317.40 497.53 L318.50 497.24 L319.60 497.52 L320.70 497.29 L321.80 497.62 L322.90 497.49 L324.00 497.32 L325.10 497.61 L326.20 497.53 L327.30 497.45 L328.40 497.90 L329.50 497.38 L330.60 497.60 L331.70 497.92 L332.80 497.99 L333.90 497.39 L335.00 497.50" stroke="#e4ec1e" stroke-width="1.9"/>
<path d="M23.50 500.00 L24.50 450.00 L25.50 422.00 L26.70 412.60 L27.90 403.20 L29.10 397.40 L30.90 410.30 L32.60 420.90 L33.75 422.01 L34.90 422.10 L36.10 420.90 L37.30 419.70 L38.45 416.75 L39.60 413.80 L40.80 415.60 L42.00 417.40 L43.20 424.45 L44.40 431.50 L45.50 443.00 L46.70 450.05 L47.90 457.10 L49.05 461.80 L50.20 466.50 L51.40 469.63 L52.60 472.77 L53.80 475.90 L54.97 477.47 L56.13 479.03 L57.30 480.60 L58.48 481.54 L59.67 481.87 L60.85 481.30 L62.03 482.31 L63.22 482.51 L64.40 483.00 L65.58 483.19 L66.75 482.86 L67.92 483.08 L69.10 483.53 L70.28 483.42 L71.45 483.85 L72.62 483.48 L73.80 484.20 L74.91 483.74 L76.01 484.53 L77.12 484.23 L78.22 484.38 L79.33 484.69 L80.44 484.28 L81.54 483.96 L82.65 484.87 L83.75 484.68 L84.86 484.80 L85.96 484.80 L87.07 485.26 L88.18 484.57 L89.28 485.09 L90.39 484.66 L91.49 484.95 L92.60 484.90 L93.77 485.16 L94.95 484.80 L96.12 484.59 L97.30 485.12 L98.47 485.47 L99.65 485.38 L100.83 485.27 L102.00 485.40 L103.13 485.69 L104.26 485.26 L105.39 485.38 L106.53 485.67 L107.66 486.38 L108.79 485.76 L109.92 485.78 L111.05 485.89 L112.18 485.94 L113.32 486.34 L114.45 486.82 L115.58 487.24 L116.71 486.77 L117.84 486.94 L118.97 486.96 L120.11 487.10 L121.24 487.79 L122.37 487.64 L123.50 487.70 L124.61 487.41 L125.72 487.23 L126.84 488.04 L127.95 487.95 L129.06 488.09 L130.17 487.39 L131.28 487.75 L132.39 488.20 L133.51 487.81 L134.62 488.23 L135.73 487.30 L136.84 488.27 L137.95 487.17 L139.06 487.60 L140.18 487.13 L141.29 488.07 L142.40 487.70 L143.58 488.16 L144.75 488.74 L145.93 488.78 L147.10 489.19 L148.28 488.93 L149.45 489.71 L150.62 489.66 L151.80 489.60 L152.98 489.77 L154.15 490.87 L155.32 490.50 L156.50 490.63 L157.68 490.84 L158.85 491.66 L160.02 491.69 L161.20 492.40 L162.38 493.27 L163.55 493.64 L164.72 493.11 L165.90 493.32 L167.07 494.18 L168.25 494.10 L169.42 494.90 L170.60 495.20 L171.78 495.88 L172.95 495.50 L174.12 496.01 L175.30 496.88 L176.47 496.63 L177.65 496.81 L178.82 497.77 L180.00 497.60 L181.11 497.99 L182.22 498.10 L183.33 497.86 L184.44 497.54 L185.56 497.89 L186.67 498.06 L187.78 497.85 L188.89 497.37 L190.00 497.45 L191.11 497.60 L192.22 498.05 L193.33 497.80 L194.44 497.80 L195.56 498.15 L196.67 497.30 L197.78 497.94 L198.89 497.59 L200.00 497.80 L201.12 497.88 L202.23 498.22 L203.35 497.53 L204.46 498.38 L205.58 497.34 L206.69 497.93 L207.81 497.92 L208.92 497.56 L210.04 497.96 L211.15 497.86 L212.27 497.85 L213.38 498.18 L214.50 497.33 L215.62 497.79 L216.73 498.29 L217.85 497.52 L218.96 498.40 L220.08 497.62 L221.19 498.20 L222.31 497.60 L223.42 497.94 L224.54 497.92 L225.65 497.52 L226.77 498.27 L227.88 498.02 L229.00 498.28 L230.12 498.11 L231.23 498.14 L232.35 498.11 L233.46 497.85 L234.58 498.58 L235.69 497.61 L236.81 498.57 L237.92 498.56 L239.04 498.13 L240.15 498.48 L241.27 498.36 L242.38 498.29 L243.50 497.92 L244.62 497.97 L245.73 498.01 L246.85 497.97 L247.96 498.77 L249.08 498.03 L250.19 498.10 L251.31 498.15 L252.42 498.63 L253.54 498.23 L254.65 498.34 L255.77 497.99 L256.88 498.02 L258.00 498.30 L259.10 497.78 L260.20 497.91 L261.30 497.94 L262.40 498.63 L263.50 498.18 L264.60 497.69 L265.70 498.09 L266.80 497.65 L267.90 498.16 L269.00 497.99 L270.10 498.46 L271.20 497.72 L272.30 498.41 L273.40 497.66 L274.50 498.51 L275.60 498.07 L276.70 497.34 L277.80 498.23 L278.90 497.57 L280.00 497.65 L281.10 497.37 L282.20 498.17 L283.30 497.25 L284.40 498.00 L285.50 497.57 L286.60 497.88 L287.70 497.40 L288.80 497.11 L289.90 498.09 L291.00 497.76 L292.10 497.15 L293.20 498.09 L294.30 497.99 L295.40 497.09 L296.50 496.87 L297.60 497.56 L298.70 496.97 L299.80 497.66 L300.90 497.32 L302.00 497.58 L303.10 497.39 L304.20 497.60 L305.30 497.64 L306.40 497.35 L307.50 497.32 L308.60 496.98 L309.70 496.72 L310.80 496.65 L311.90 497.54 L313.00 496.73 L314.10 496.97 L315.20 496.82 L316.30 497.16 L317.40 497.03 L318.50 497.40 L319.60 496.86 L320.70 496.75 L321.80 497.07 L322.90 497.16 L324.00 497.35 L325.10 496.59 L326.20 497.26 L327.30 497.35 L328.40 497.32 L329.50 496.28 L330.60 496.55 L331.70 497.00 L332.80 497.05 L333.90 496.07 L335.00 496.60" stroke="#9c4429" stroke-width="1.7"/>
<path d="M23.50 499.30 L24.70 499.49 L25.90 499.00 L27.10 498.50 L28.60 470.00 L30.00 445.30 L31.20 443.50 L33.00 445.90 L34.80 444.10 L36.50 446.50 L38.30 445.90 L39.62 446.59 L40.95 445.69 L42.27 447.15 L43.60 446.50 L44.88 446.11 L46.16 446.97 L47.44 446.15 L48.72 447.31 L50.00 447.00 L51.20 446.38 L52.40 447.21 L53.60 447.17 L54.80 447.18 L56.00 446.59 L57.20 447.21 L58.40 447.34 L59.60 446.50 L60.80 445.51 L62.00 445.78 L63.20 446.11 L64.40 445.00 L65.57 444.90 L66.73 443.94 L67.90 443.24 L69.07 443.79 L70.23 441.92 L71.40 442.10 L72.58 441.62 L73.75 440.85 L74.92 438.85 L76.10 438.50 L77.28 437.84 L78.47 437.42 L79.65 437.42 L80.83 436.75 L82.02 437.21 L83.20 436.20 L84.37 436.10 L85.53 434.34 L86.70 434.48 L87.87 432.38 L89.03 431.64 L90.20 431.50 L91.38 430.78 L92.57 430.01 L93.75 429.06 L94.93 428.35 L96.12 427.16 L97.30 425.60 L98.65 424.03 L100.00 423.20 L101.20 423.04 L102.40 422.10 L103.57 419.73 L104.73 417.37 L105.90 415.00 L107.05 412.40 L108.20 409.80 L109.40 409.71 L110.60 407.62 L111.80 407.50 L112.95 405.15 L114.10 402.80 L116.00 399.00 L117.33 399.46 L118.67 399.38 L120.00 400.40 L121.17 400.40 L122.33 401.50 L123.50 402.10 L124.70 403.14 L125.90 404.39 L127.10 404.40 L128.27 404.21 L129.43 405.21 L130.60 405.60 L131.78 406.70 L132.95 406.62 L134.12 406.55 L135.30 406.80 L136.45 409.15 L137.60 411.50 L138.80 414.20 L140.00 416.90 L141.20 417.09 L142.40 418.10 L143.57 418.23 L144.75 417.57 L145.93 418.11 L147.10 417.80 L148.28 418.21 L149.45 417.98 L150.62 418.80 L151.80 418.50 L152.97 417.85 L154.13 417.45 L155.30 417.53 L156.47 416.10 L157.63 415.50 L158.80 415.50 L159.98 415.19 L161.15 414.55 L162.32 414.82 L163.50 413.80 L164.68 413.13 L165.87 413.06 L167.05 412.29 L168.23 412.65 L169.42 412.17 L170.60 412.20 L171.78 411.64 L172.95 411.67 L174.12 410.03 L175.30 410.30 L176.48 410.78 L177.65 410.04 L178.82 409.90 L180.00 409.10 L181.35 409.76 L182.70 410.30 L183.88 409.37 L185.05 408.06 L186.22 406.98 L187.40 406.10 L188.57 405.23 L189.75 404.93 L190.93 404.50 L192.10 404.40 L193.28 404.14 L194.45 405.05 L195.62 404.88 L196.80 404.40 L198.00 402.65 L199.20 400.90 L200.35 402.05 L201.50 403.20 L202.68 403.36 L203.87 402.29 L205.05 402.62 L206.23 403.00 L207.42 403.17 L208.60 402.80 L209.78 402.58 L210.95 402.84 L212.12 403.19 L213.30 402.08 L214.47 402.17 L215.65 402.69 L216.82 401.90 L218.00 402.10 L219.18 402.63 L220.35 402.29 L221.52 401.86 L222.70 402.80 L223.90 403.89 L225.10 405.10 L226.28 404.47 L227.45 405.68 L228.62 405.84 L229.80 405.40 L230.97 406.05 L232.15 405.02 L233.32 405.45 L234.50 405.60 L235.67 405.40 L236.83 405.51 L238.00 407.07 L239.17 406.15 L240.33 407.88 L241.50 407.50 L242.68 407.72 L243.85 408.07 L245.02 407.15 L246.20 408.00 L247.38 408.34 L248.57 407.84 L249.75 406.42 L250.93 406.23 L252.12 405.84 L253.30 406.10 L254.48 406.58 L255.65 406.38 L256.82 408.00 L258.00 408.00 L259.23 407.84 L260.45 408.03 L261.68 407.16 L262.90 407.65 L264.12 407.18 L265.35 407.34 L266.57 406.81 L267.80 406.80 L268.97 407.41 L270.14 407.01 L271.31 406.82 L272.48 405.87 L273.65 405.46 L274.82 405.23 L275.99 405.02 L277.16 406.19 L278.33 404.92 L279.50 405.10 L280.68 405.79 L281.86 404.87 L283.04 405.59 L284.22 405.10 L285.40 405.29 L286.58 406.10 L287.76 405.97 L288.94 406.61 L290.12 405.58 L291.30 406.10 L292.48 405.56 L293.66 405.06 L294.84 405.13 L296.02 406.19 L297.20 405.35 L298.38 405.04 L299.56 404.66 L300.74 405.16 L301.92 404.87 L303.10 404.40 L304.28 403.70 L305.45 403.37 L306.62 403.43 L307.80 404.31 L308.98 404.02 L310.15 403.06 L311.32 402.92 L312.50 403.20 L313.67 402.59 L314.83 402.89 L316.00 402.70 L317.17 401.58 L318.33 401.43 L319.50 401.40 L320.68 401.21 L321.87 402.58 L323.05 402.18 L324.23 403.04 L325.42 402.15 L326.60 402.80 L327.78 402.41 L328.95 401.71 L330.12 401.69 L331.30 400.40 L332.47 399.55 L333.63 398.70 L334.80 398.50" stroke="#2e1a12" stroke-width="2.0"/>
</g>
<path d="M23.30 378.60 V513.70 H335.10" fill="none" stroke="#2a2a2a" stroke-width="1.3"/>
<line x1="19.30" y1="398.00" x2="23.30" y2="398.00" stroke="#2a2a2a" stroke-width="1.2"/>
<line x1="21.30" y1="423.50" x2="23.30" y2="423.50" stroke="#2a2a2a" stroke-width="1.2"/>
<line x1="19.30" y1="449.00" x2="23.30" y2="449.00" stroke="#2a2a2a" stroke-width="1.2"/>
<line x1="21.30" y1="474.40" x2="23.30" y2="474.40" stroke="#2a2a2a" stroke-width="1.2"/>
<line x1="19.30" y1="499.90" x2="23.30" y2="499.90" stroke="#2a2a2a" stroke-width="1.2"/>
<line x1="33.99" y1="513.70" x2="33.99" y2="515.70" stroke="#2a2a2a" stroke-width="1.1"/>
<line x1="55.38" y1="513.70" x2="55.38" y2="517.20" stroke="#2a2a2a" stroke-width="1.1"/>
<line x1="76.77" y1="513.70" x2="76.77" y2="515.70" stroke="#2a2a2a" stroke-width="1.1"/>
<line x1="98.16" y1="513.70" x2="98.16" y2="517.20" stroke="#2a2a2a" stroke-width="1.1"/>
<line x1="119.56" y1="513.70" x2="119.56" y2="515.70" stroke="#2a2a2a" stroke-width="1.1"/>
<line x1="140.95" y1="513.70" x2="140.95" y2="517.20" stroke="#2a2a2a" stroke-width="1.1"/>
<line x1="162.34" y1="513.70" x2="162.34" y2="515.70" stroke="#2a2a2a" stroke-width="1.1"/>
<line x1="183.73" y1="513.70" x2="183.73" y2="517.20" stroke="#2a2a2a" stroke-width="1.1"/>
<line x1="205.12" y1="513.70" x2="205.12" y2="515.70" stroke="#2a2a2a" stroke-width="1.1"/>
<line x1="226.51" y1="513.70" x2="226.51" y2="517.20" stroke="#2a2a2a" stroke-width="1.1"/>
<line x1="247.90" y1="513.70" x2="247.90" y2="515.70" stroke="#2a2a2a" stroke-width="1.1"/>
<line x1="269.30" y1="513.70" x2="269.30" y2="517.20" stroke="#2a2a2a" stroke-width="1.1"/>
<line x1="290.69" y1="513.70" x2="290.69" y2="515.70" stroke="#2a2a2a" stroke-width="1.1"/>
<line x1="312.08" y1="513.70" x2="312.08" y2="517.20" stroke="#2a2a2a" stroke-width="1.1"/>
<line x1="333.47" y1="513.70" x2="333.47" y2="515.70" stroke="#2a2a2a" stroke-width="1.1"/>
<text x="55.38" y="527.3" font-size="9.5" font-weight="bold" text-anchor="middle">250</text>
<text x="98.16" y="527.3" font-size="9.5" font-weight="bold" text-anchor="middle">500</text>
<text x="140.95" y="527.3" font-size="9.5" font-weight="bold" text-anchor="middle">750</text>
<text x="183.73" y="527.3" font-size="9.5" font-weight="bold" text-anchor="middle">1000</text>
<text x="226.51" y="527.3" font-size="9.5" font-weight="bold" text-anchor="middle">1250</text>
<text x="269.30" y="527.3" font-size="9.5" font-weight="bold" text-anchor="middle">1500</text>
<text x="312.08" y="527.3" font-size="9.5" font-weight="bold" text-anchor="middle">1750</text>
<text x="178.9" y="544.8" font-size="11.2" font-weight="bold" text-anchor="middle">Raman shift (cm<tspan font-size="6.94" dy="-4.26">-1</tspan><tspan dy="4.26">)</tspan></text>
<text transform="translate(7.9 445.8) rotate(-90)" x="0" y="4.03" font-size="11.2" font-weight="bold" text-anchor="middle">(a.u.)</text>
<line x1="248.4" y1="430.6" x2="266.9" y2="430.6" stroke="#33195f" stroke-width="1.4"/>
<text x="268.4" y="433.10" font-size="8" fill="#222">Zn6</text>
<line x1="248.4" y1="440.5" x2="266.9" y2="440.5" stroke="#6faaf0" stroke-width="1.4"/>
<text x="268.4" y="443.00" font-size="8" fill="#222">Zn6-300</text>
<line x1="248.4" y1="449.9" x2="266.9" y2="449.9" stroke="#e4ec1e" stroke-width="1.4"/>
<text x="268.4" y="452.40" font-size="8" fill="#222">Zn6-450</text>
<line x1="248.4" y1="459.7" x2="266.9" y2="459.7" stroke="#9a5530" stroke-width="1.4"/>
<text x="268.4" y="462.20" font-size="8" fill="#222">Zn6-600</text>
<line x1="248.4" y1="469.5" x2="266.9" y2="469.5" stroke="#2a1a12" stroke-width="1.4"/>
<text x="268.4" y="472.00" font-size="8" fill="#222">Zn2-res</text>
</svg>
</body></html>
